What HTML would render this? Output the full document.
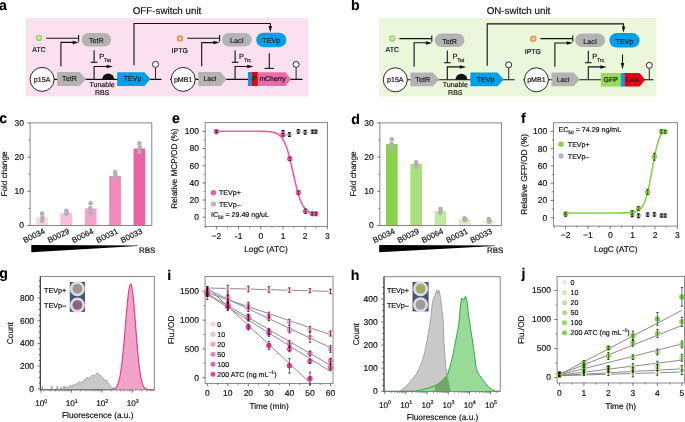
<!DOCTYPE html>
<html><head><meta charset="utf-8"><style>
html,body{margin:0;padding:0;background:#fff;}
body{width:685px;height:422px;overflow:hidden;}
svg{display:block;font-family:"Liberation Sans",sans-serif;text-rendering:geometricPrecision;will-change:transform;}
</style></head><body>
<svg width="685" height="422" viewBox="0 0 685 422">
<defs><radialGradient id="gG"><stop offset="0" stop-color="#e2f2cf"/><stop offset="0.45" stop-color="#bfe29a"/><stop offset="1" stop-color="#8cca55"/></radialGradient><radialGradient id="gO"><stop offset="0" stop-color="#f7e3cc"/><stop offset="0.45" stop-color="#eab27c"/><stop offset="1" stop-color="#dd8a3c"/></radialGradient></defs>
<rect width="685" height="422" fill="#fff"/>
<rect x="26.00" y="18.00" width="282.60" height="78.50" fill="#fbe1ef"/>
<text x="167.00" y="13.90" font-size="9.8" text-anchor="middle" fill="#111" stroke="#111" stroke-width="0.18">OFF-switch unit</text>
<text x="-1.00" y="9.80" font-size="14.2" text-anchor="start" font-weight="bold" fill="#000" stroke="#000" stroke-width="0.12">a</text>
<circle cx="39.00" cy="38.00" r="3.20" fill="url(#gG)"/>
<text x="39.10" y="51.60" font-size="7" text-anchor="middle" fill="#111" stroke="#111" stroke-width="0.18">ATC</text>
<line x1="46.20" y1="38.20" x2="78.60" y2="38.20" stroke="#111" stroke-width="1.1"/>
<line x1="78.60" y1="35.00" x2="78.60" y2="41.40" stroke="#111" stroke-width="1.1"/>
<path d="M60.90,66.30 L60.90,42.40 L75.50,42.40" fill="none" stroke="#111" stroke-width="1.1"/>
<path d="M79.00,42.50 L72.60,40.75 L72.60,44.25 Z" fill="#111" stroke="none" stroke-width="0.8"/>
<rect x="81.60" y="33.10" width="29.60" height="13.50" rx="6.75" fill="#b3b3b3"/>
<text x="96.40" y="43.15" font-size="7.2" text-anchor="middle" fill="#222" stroke="#222" stroke-width="0.18">TetR</text>
<line x1="94.10" y1="50.20" x2="94.10" y2="62.30" stroke="#111" stroke-width="1.1"/>
<line x1="90.80" y1="62.30" x2="97.40" y2="62.30" stroke="#111" stroke-width="1.1"/>
<text x="99.30" y="58.80" font-size="7.4" text-anchor="start" fill="#111" stroke="#111" stroke-width="0.18">P</text>
<text x="104.10" y="61.60" font-size="5.2" text-anchor="start" fill="#111" stroke="#111" stroke-width="0.18">Tet</text>
<line x1="54.10" y1="79.40" x2="161.50" y2="79.40" stroke="#111" stroke-width="1.1"/>
<circle cx="42.10" cy="79.40" r="12.00" fill="#fff" stroke="#111" stroke-width="0.9"/>
<text x="42.10" y="81.90" font-size="7.1" text-anchor="middle" fill="#111" stroke="#111" stroke-width="0.18">p15A</text>
<path d="M57.20,72.10 L79.60,72.10 L86.20,79.00 L79.60,85.90 L57.20,85.90 Z" fill="#b3b3b3" stroke="none" stroke-width="0.8"/>
<text x="69.50" y="81.35" font-size="7.2" text-anchor="middle" fill="#222" stroke="#222" stroke-width="0.18">TetR</text>
<path d="M94.10,79.40 L94.10,66.50 L108.50,66.50" fill="none" stroke="#111" stroke-width="1.1"/>
<path d="M113.00,66.50 L106.60,64.75 L106.60,68.25 Z" fill="#111" stroke="none" stroke-width="0.8"/>
<path d="M102.20,79.40 A6,6 0 0 1 114.20,79.40 Z" fill="#111" stroke="none" stroke-width="0.8"/>
<text x="102.10" y="87.00" font-size="7" text-anchor="middle" fill="#111" stroke="#111" stroke-width="0.18">Tunable</text>
<text x="102.10" y="95.00" font-size="7" text-anchor="middle" fill="#111" stroke="#111" stroke-width="0.18">RBS</text>
<path d="M117.20,72.20 L144.40,72.20 L150.50,79.05 L144.40,85.90 L117.20,85.90 Z" fill="#00a0e9" stroke="none" stroke-width="0.8"/>
<text x="132.40" y="81.40" font-size="7.2" text-anchor="middle" fill="#222" stroke="#222" stroke-width="0.18">TEVp</text>
<line x1="155.50" y1="79.40" x2="155.50" y2="67.40" stroke="#111" stroke-width="0.9"/>
<circle cx="155.50" cy="64.40" r="3.00" fill="#fff" stroke="#111" stroke-width="0.9"/>
<path d="M134.00,65.30 L134.00,23.50 L270.30,23.50 L270.30,28.00" fill="none" stroke="#111" stroke-width="1.1"/>
<path d="M270.30,32.40 L268.55,26.00 L272.05,26.00 Z" fill="#111" stroke="none" stroke-width="0.8"/>
<circle cx="180.00" cy="38.40" r="3.20" fill="url(#gO)"/>
<text x="179.70" y="53.20" font-size="7" text-anchor="middle" fill="#111" stroke="#111" stroke-width="0.18">IPTG</text>
<line x1="187.20" y1="38.20" x2="219.60" y2="38.20" stroke="#111" stroke-width="1.1"/>
<line x1="219.60" y1="35.00" x2="219.60" y2="41.40" stroke="#111" stroke-width="1.1"/>
<path d="M201.70,66.30 L201.70,42.60 L216.50,42.60" fill="none" stroke="#111" stroke-width="1.1"/>
<path d="M219.80,42.60 L213.40,40.85 L213.40,44.35 Z" fill="#111" stroke="none" stroke-width="0.8"/>
<rect x="222.00" y="33.10" width="29.80" height="13.50" rx="6.75" fill="#b3b3b3"/>
<text x="236.90" y="43.15" font-size="7.2" text-anchor="middle" fill="#222" stroke="#222" stroke-width="0.18">LacI</text>
<rect x="256.20" y="32.70" width="30.20" height="14.50" rx="7.25" fill="#00a0e9"/>
<text x="271.30" y="43.25" font-size="7.2" text-anchor="middle" fill="#222" stroke="#222" stroke-width="0.18">TEVp</text>
<line x1="235.10" y1="50.40" x2="235.10" y2="62.30" stroke="#111" stroke-width="1.1"/>
<line x1="231.80" y1="62.30" x2="238.40" y2="62.30" stroke="#111" stroke-width="1.1"/>
<text x="239.10" y="58.80" font-size="7.4" text-anchor="start" fill="#111" stroke="#111" stroke-width="0.18">P</text>
<text x="243.90" y="61.60" font-size="5.2" text-anchor="start" fill="#111" stroke="#111" stroke-width="0.18">Trc</text>
<line x1="170.00" y1="79.40" x2="302.50" y2="79.40" stroke="#111" stroke-width="1.1"/>
<circle cx="183.20" cy="79.40" r="12.00" fill="#fff" stroke="#111" stroke-width="0.9"/>
<text x="183.20" y="81.90" font-size="7.1" text-anchor="middle" fill="#111" stroke="#111" stroke-width="0.18">pMB1</text>
<path d="M198.30,72.10 L220.60,72.10 L226.60,79.00 L220.60,85.90 L198.30,85.90 Z" fill="#b3b3b3" stroke="none" stroke-width="0.8"/>
<text x="210.00" y="81.35" font-size="6.9" text-anchor="middle" fill="#222" stroke="#222" stroke-width="0.18">LacI</text>
<path d="M235.10,79.40 L235.10,66.50 L249.00,66.50" fill="none" stroke="#111" stroke-width="1.1"/>
<path d="M253.50,66.50 L247.10,64.75 L247.10,68.25 Z" fill="#111" stroke="none" stroke-width="0.8"/>
<line x1="269.30" y1="53.30" x2="269.30" y2="68.40" stroke="#111" stroke-width="1.1"/>
<line x1="264.60" y1="68.40" x2="274.00" y2="68.40" stroke="#111" stroke-width="1.1"/>
<rect x="247.90" y="72.00" width="3.70" height="14.00" fill="#00a0e9"/>
<rect x="251.50" y="72.00" width="6.40" height="14.00" fill="#e60012"/>
<text x="254.70" y="81.10" font-size="7.2" text-anchor="middle" fill="#222" stroke="#222" stroke-width="0.18">F</text>
<path d="M257.80,72.20 L285.40,72.20 L290.90,79.15 L285.40,86.10 L257.80,86.10 Z" fill="#ec6aa8" stroke="none" stroke-width="0.8"/>
<text x="272.60" y="81.10" font-size="6.9" text-anchor="middle" fill="#111" stroke="#111" stroke-width="0.18">mCherry</text>
<line x1="296.10" y1="79.40" x2="296.10" y2="67.40" stroke="#111" stroke-width="0.9"/>
<circle cx="296.10" cy="64.40" r="3.00" fill="#fff" stroke="#111" stroke-width="0.9"/>
<rect x="379.20" y="18.00" width="277.40" height="78.50" fill="#ebf7db"/>
<text x="518.50" y="13.90" font-size="9.8" text-anchor="middle" fill="#111" stroke="#111" stroke-width="0.18">ON-switch unit</text>
<text x="350.90" y="9.80" font-size="14.2" text-anchor="start" font-weight="bold" fill="#000" stroke="#000" stroke-width="0.12">b</text>
<circle cx="392.20" cy="38.40" r="3.20" fill="url(#gG)"/>
<text x="392.30" y="52.00" font-size="7" text-anchor="middle" fill="#111" stroke="#111" stroke-width="0.18">ATC</text>
<line x1="399.40" y1="38.60" x2="431.80" y2="38.60" stroke="#111" stroke-width="1.1"/>
<line x1="431.80" y1="35.40" x2="431.80" y2="41.80" stroke="#111" stroke-width="1.1"/>
<path d="M414.10,66.70 L414.10,42.80 L428.70,42.80" fill="none" stroke="#111" stroke-width="1.1"/>
<path d="M432.20,42.90 L425.80,41.15 L425.80,44.65 Z" fill="#111" stroke="none" stroke-width="0.8"/>
<rect x="434.80" y="33.50" width="29.60" height="13.50" rx="6.75" fill="#b3b3b3"/>
<text x="449.60" y="43.55" font-size="7.2" text-anchor="middle" fill="#222" stroke="#222" stroke-width="0.18">TetR</text>
<line x1="447.30" y1="50.60" x2="447.30" y2="62.70" stroke="#111" stroke-width="1.1"/>
<line x1="444.00" y1="62.70" x2="450.60" y2="62.70" stroke="#111" stroke-width="1.1"/>
<text x="452.50" y="59.20" font-size="7.4" text-anchor="start" fill="#111" stroke="#111" stroke-width="0.18">P</text>
<text x="457.30" y="62.00" font-size="5.2" text-anchor="start" fill="#111" stroke="#111" stroke-width="0.18">Tet</text>
<line x1="407.30" y1="79.80" x2="514.70" y2="79.80" stroke="#111" stroke-width="1.1"/>
<circle cx="395.30" cy="79.80" r="12.00" fill="#fff" stroke="#111" stroke-width="0.9"/>
<text x="395.30" y="82.30" font-size="7.1" text-anchor="middle" fill="#111" stroke="#111" stroke-width="0.18">p15A</text>
<path d="M410.40,72.50 L432.80,72.50 L439.40,79.40 L432.80,86.30 L410.40,86.30 Z" fill="#b3b3b3" stroke="none" stroke-width="0.8"/>
<text x="422.70" y="81.75" font-size="7.2" text-anchor="middle" fill="#222" stroke="#222" stroke-width="0.18">TetR</text>
<path d="M447.30,79.80 L447.30,66.90 L461.70,66.90" fill="none" stroke="#111" stroke-width="1.1"/>
<path d="M466.20,66.90 L459.80,65.15 L459.80,68.65 Z" fill="#111" stroke="none" stroke-width="0.8"/>
<path d="M455.40,79.80 A6,6 0 0 1 467.40,79.80 Z" fill="#111" stroke="none" stroke-width="0.8"/>
<text x="455.30" y="87.40" font-size="7" text-anchor="middle" fill="#111" stroke="#111" stroke-width="0.18">Tunable</text>
<text x="455.30" y="95.40" font-size="7" text-anchor="middle" fill="#111" stroke="#111" stroke-width="0.18">RBS</text>
<path d="M470.40,72.60 L497.60,72.60 L503.70,79.45 L497.60,86.30 L470.40,86.30 Z" fill="#00a0e9" stroke="none" stroke-width="0.8"/>
<text x="485.60" y="81.80" font-size="7.2" text-anchor="middle" fill="#222" stroke="#222" stroke-width="0.18">TEVp</text>
<line x1="508.70" y1="79.80" x2="508.70" y2="67.80" stroke="#111" stroke-width="0.9"/>
<circle cx="508.70" cy="64.80" r="3.00" fill="#fff" stroke="#111" stroke-width="0.9"/>
<path d="M487.20,65.70 L487.20,23.90 L623.50,23.90 L623.50,28.40" fill="none" stroke="#111" stroke-width="1.1"/>
<path d="M623.50,32.80 L621.75,26.40 L625.25,26.40 Z" fill="#111" stroke="none" stroke-width="0.8"/>
<circle cx="533.20" cy="38.80" r="3.20" fill="url(#gO)"/>
<text x="532.90" y="53.60" font-size="7" text-anchor="middle" fill="#111" stroke="#111" stroke-width="0.18">IPTG</text>
<line x1="540.40" y1="38.60" x2="572.80" y2="38.60" stroke="#111" stroke-width="1.1"/>
<line x1="572.80" y1="35.40" x2="572.80" y2="41.80" stroke="#111" stroke-width="1.1"/>
<path d="M554.90,66.70 L554.90,43.00 L569.70,43.00" fill="none" stroke="#111" stroke-width="1.1"/>
<path d="M573.00,43.00 L566.60,41.25 L566.60,44.75 Z" fill="#111" stroke="none" stroke-width="0.8"/>
<rect x="575.20" y="33.50" width="29.80" height="13.50" rx="6.75" fill="#b3b3b3"/>
<text x="590.10" y="43.55" font-size="7.2" text-anchor="middle" fill="#222" stroke="#222" stroke-width="0.18">LacI</text>
<rect x="609.40" y="33.10" width="30.20" height="14.50" rx="7.25" fill="#00a0e9"/>
<text x="624.50" y="43.65" font-size="7.2" text-anchor="middle" fill="#222" stroke="#222" stroke-width="0.18">TEVp</text>
<line x1="588.30" y1="50.80" x2="588.30" y2="62.70" stroke="#111" stroke-width="1.1"/>
<line x1="585.00" y1="62.70" x2="591.60" y2="62.70" stroke="#111" stroke-width="1.1"/>
<text x="592.30" y="59.20" font-size="7.4" text-anchor="start" fill="#111" stroke="#111" stroke-width="0.18">P</text>
<text x="597.10" y="62.00" font-size="5.2" text-anchor="start" fill="#111" stroke="#111" stroke-width="0.18">Trc</text>
<line x1="523.20" y1="79.80" x2="653.50" y2="79.80" stroke="#111" stroke-width="1.1"/>
<circle cx="536.40" cy="79.80" r="12.00" fill="#fff" stroke="#111" stroke-width="0.9"/>
<text x="536.40" y="82.30" font-size="7.1" text-anchor="middle" fill="#111" stroke="#111" stroke-width="0.18">pMB1</text>
<path d="M551.50,72.50 L573.80,72.50 L579.80,79.40 L573.80,86.30 L551.50,86.30 Z" fill="#b3b3b3" stroke="none" stroke-width="0.8"/>
<text x="563.20" y="81.75" font-size="6.9" text-anchor="middle" fill="#222" stroke="#222" stroke-width="0.18">LacI</text>
<path d="M588.30,79.80 L588.30,66.90 L602.20,66.90" fill="none" stroke="#111" stroke-width="1.1"/>
<path d="M606.70,66.90 L600.30,65.15 L600.30,68.65 Z" fill="#111" stroke="none" stroke-width="0.8"/>
<line x1="622.50" y1="54.40" x2="622.50" y2="65.40" stroke="#111" stroke-width="1.1"/>
<path d="M622.50,69.40 L620.75,63.00 L624.25,63.00 Z" fill="#111" stroke="none" stroke-width="0.8"/>
<rect x="600.80" y="73.00" width="20.40" height="13.60" fill="#98da5c"/>
<text x="610.80" y="82.30" font-size="7.0" text-anchor="middle" fill="#111" stroke="#111" stroke-width="0.18">GFP</text>
<rect x="620.90" y="73.00" width="4.00" height="13.60" fill="#00a0e9"/>
<path d="M624.70,73.00 L639.60,73.00 L645.20,79.80 L639.60,86.60 L624.70,86.60 Z" fill="#e60012" stroke="none" stroke-width="0.8"/>
<text x="632.60" y="82.30" font-size="7.0" text-anchor="middle" fill="#222" stroke="#222" stroke-width="0.18">LAA</text>
<line x1="649.30" y1="79.80" x2="649.30" y2="68.30" stroke="#111" stroke-width="0.9"/>
<circle cx="649.30" cy="65.30" r="3.00" fill="#fff" stroke="#111" stroke-width="0.9"/>
<text x="-0.70" y="123.30" font-size="14.2" text-anchor="start" font-weight="bold" fill="#000" stroke="#000" stroke-width="0.12">c</text>
<rect x="36.15" y="217.29" width="11.70" height="8.21" fill="#fbd6e7"/>
<rect x="60.50" y="212.85" width="11.70" height="12.65" fill="#f8bedb"/>
<rect x="84.85" y="208.40" width="11.70" height="17.10" fill="#f4a3cb"/>
<rect x="109.20" y="175.91" width="11.70" height="49.59" fill="#f089bd"/>
<rect x="133.55" y="148.55" width="11.70" height="76.95" fill="#ea62a5"/>
<circle cx="42.00" cy="213.53" r="2.35" fill="#b2b2b2"/>
<circle cx="42.50" cy="217.63" r="2.35" fill="#b2b2b2"/>
<circle cx="42.00" cy="221.05" r="2.35" fill="#b2b2b2"/>
<circle cx="66.35" cy="210.79" r="2.35" fill="#b2b2b2"/>
<circle cx="66.85" cy="213.19" r="2.35" fill="#b2b2b2"/>
<circle cx="66.35" cy="213.87" r="2.35" fill="#b2b2b2"/>
<circle cx="90.70" cy="203.27" r="2.35" fill="#b2b2b2"/>
<circle cx="90.20" cy="208.40" r="2.35" fill="#b2b2b2"/>
<circle cx="90.70" cy="213.19" r="2.35" fill="#b2b2b2"/>
<circle cx="115.05" cy="172.15" r="2.35" fill="#b2b2b2"/>
<circle cx="115.55" cy="174.88" r="2.35" fill="#b2b2b2"/>
<circle cx="115.05" cy="177.62" r="2.35" fill="#b2b2b2"/>
<circle cx="139.40" cy="143.42" r="2.35" fill="#b2b2b2"/>
<circle cx="139.90" cy="147.52" r="2.35" fill="#b2b2b2"/>
<circle cx="139.40" cy="151.97" r="2.35" fill="#b2b2b2"/>
<rect x="30.10" y="122.90" width="121.70" height="102.60" fill="none" stroke="#7a7a7a" stroke-width="0.9"/>
<line x1="27.30" y1="225.50" x2="30.10" y2="225.50" stroke="#555" stroke-width="0.8"/>
<text x="23.90" y="228.40" font-size="8.5" text-anchor="end" fill="#111" stroke="#111" stroke-width="0.18">0</text>
<line x1="27.30" y1="191.30" x2="30.10" y2="191.30" stroke="#555" stroke-width="0.8"/>
<text x="23.90" y="194.20" font-size="8.5" text-anchor="end" fill="#111" stroke="#111" stroke-width="0.18">10</text>
<line x1="27.30" y1="157.10" x2="30.10" y2="157.10" stroke="#555" stroke-width="0.8"/>
<text x="23.90" y="160.00" font-size="8.5" text-anchor="end" fill="#111" stroke="#111" stroke-width="0.18">20</text>
<line x1="27.30" y1="122.90" x2="30.10" y2="122.90" stroke="#555" stroke-width="0.8"/>
<text x="23.90" y="125.80" font-size="8.5" text-anchor="end" fill="#111" stroke="#111" stroke-width="0.18">30</text>
<line x1="28.50" y1="208.40" x2="30.10" y2="208.40" stroke="#555" stroke-width="0.7"/>
<line x1="28.50" y1="174.20" x2="30.10" y2="174.20" stroke="#555" stroke-width="0.7"/>
<line x1="28.50" y1="140.00" x2="30.10" y2="140.00" stroke="#555" stroke-width="0.7"/>
<text x="6.60" y="174.00" font-size="8.2" text-anchor="middle" fill="#111" stroke="#111" stroke-width="0.18" transform="rotate(-90 6.60 174.00)">Fold change</text>
<text x="45.60" y="233.00" font-size="8.0" text-anchor="end" fill="#111" stroke="#111" stroke-width="0.18" transform="rotate(-26 45.60 233.00)">B0034</text>
<text x="69.95" y="233.00" font-size="8.0" text-anchor="end" fill="#111" stroke="#111" stroke-width="0.18" transform="rotate(-26 69.95 233.00)">B0029</text>
<text x="94.30" y="233.00" font-size="8.0" text-anchor="end" fill="#111" stroke="#111" stroke-width="0.18" transform="rotate(-26 94.30 233.00)">B0064</text>
<text x="118.65" y="233.00" font-size="8.0" text-anchor="end" fill="#111" stroke="#111" stroke-width="0.18" transform="rotate(-26 118.65 233.00)">B0031</text>
<text x="143.00" y="233.00" font-size="8.0" text-anchor="end" fill="#111" stroke="#111" stroke-width="0.18" transform="rotate(-26 143.00 233.00)">B0033</text>
<path d="M31.30,245.1 L137.50,245.5 L137.50,246.0 L31.30,252.3 Z" fill="#000" stroke="none" stroke-width="0.8"/>
<text x="139.00" y="252.60" font-size="8.0" text-anchor="start" fill="#111" stroke="#111" stroke-width="0.18">RBS</text>
<text x="351.30" y="123.50" font-size="14.2" text-anchor="start" font-weight="bold" fill="#000" stroke="#000" stroke-width="0.12">d</text>
<rect x="385.95" y="144.10" width="11.70" height="81.40" fill="#8ad24c"/>
<rect x="410.30" y="163.94" width="11.70" height="61.56" fill="#a9df7c"/>
<rect x="434.65" y="211.14" width="11.70" height="14.36" fill="#c3e9a1"/>
<rect x="459.00" y="219.00" width="11.70" height="6.50" fill="#d6f0c0"/>
<rect x="483.35" y="220.71" width="11.70" height="4.79" fill="#e6f6da"/>
<circle cx="391.80" cy="139.32" r="2.35" fill="#b2b2b2"/>
<circle cx="391.50" cy="144.10" r="2.35" fill="#b2b2b2"/>
<circle cx="391.80" cy="148.55" r="2.35" fill="#b2b2b2"/>
<circle cx="416.15" cy="162.23" r="2.35" fill="#b2b2b2"/>
<circle cx="416.55" cy="165.31" r="2.35" fill="#b2b2b2"/>
<circle cx="416.15" cy="166.68" r="2.35" fill="#b2b2b2"/>
<circle cx="440.50" cy="208.74" r="2.35" fill="#b2b2b2"/>
<circle cx="440.80" cy="210.79" r="2.35" fill="#b2b2b2"/>
<circle cx="440.20" cy="212.85" r="2.35" fill="#b2b2b2"/>
<circle cx="464.35" cy="218.32" r="2.35" fill="#b2b2b2"/>
<circle cx="465.35" cy="219.34" r="2.35" fill="#b2b2b2"/>
<circle cx="464.85" cy="220.03" r="2.35" fill="#b2b2b2"/>
<circle cx="488.70" cy="219.00" r="2.35" fill="#b2b2b2"/>
<circle cx="489.70" cy="220.71" r="2.35" fill="#b2b2b2"/>
<circle cx="489.20" cy="221.74" r="2.35" fill="#b2b2b2"/>
<rect x="379.90" y="122.90" width="121.70" height="102.60" fill="none" stroke="#7a7a7a" stroke-width="0.9"/>
<line x1="377.10" y1="225.50" x2="379.90" y2="225.50" stroke="#555" stroke-width="0.8"/>
<text x="373.70" y="228.40" font-size="8.5" text-anchor="end" fill="#111" stroke="#111" stroke-width="0.18">0</text>
<line x1="377.10" y1="191.30" x2="379.90" y2="191.30" stroke="#555" stroke-width="0.8"/>
<text x="373.70" y="194.20" font-size="8.5" text-anchor="end" fill="#111" stroke="#111" stroke-width="0.18">10</text>
<line x1="377.10" y1="157.10" x2="379.90" y2="157.10" stroke="#555" stroke-width="0.8"/>
<text x="373.70" y="160.00" font-size="8.5" text-anchor="end" fill="#111" stroke="#111" stroke-width="0.18">20</text>
<line x1="377.10" y1="122.90" x2="379.90" y2="122.90" stroke="#555" stroke-width="0.8"/>
<text x="373.70" y="125.80" font-size="8.5" text-anchor="end" fill="#111" stroke="#111" stroke-width="0.18">30</text>
<line x1="378.30" y1="208.40" x2="379.90" y2="208.40" stroke="#555" stroke-width="0.7"/>
<line x1="378.30" y1="174.20" x2="379.90" y2="174.20" stroke="#555" stroke-width="0.7"/>
<line x1="378.30" y1="140.00" x2="379.90" y2="140.00" stroke="#555" stroke-width="0.7"/>
<text x="356.40" y="174.00" font-size="8.2" text-anchor="middle" fill="#111" stroke="#111" stroke-width="0.18" transform="rotate(-90 356.40 174.00)">Fold change</text>
<text x="395.40" y="233.00" font-size="8.0" text-anchor="end" fill="#111" stroke="#111" stroke-width="0.18" transform="rotate(-26 395.40 233.00)">B0034</text>
<text x="419.75" y="233.00" font-size="8.0" text-anchor="end" fill="#111" stroke="#111" stroke-width="0.18" transform="rotate(-26 419.75 233.00)">B0029</text>
<text x="444.10" y="233.00" font-size="8.0" text-anchor="end" fill="#111" stroke="#111" stroke-width="0.18" transform="rotate(-26 444.10 233.00)">B0064</text>
<text x="468.45" y="233.00" font-size="8.0" text-anchor="end" fill="#111" stroke="#111" stroke-width="0.18" transform="rotate(-26 468.45 233.00)">B0031</text>
<text x="492.80" y="233.00" font-size="8.0" text-anchor="end" fill="#111" stroke="#111" stroke-width="0.18" transform="rotate(-26 492.80 233.00)">B0033</text>
<path d="M379.20,245.1 L494.70,245.5 L494.70,246.0 L379.20,252.3 Z" fill="#000" stroke="none" stroke-width="0.8"/>
<text x="486.90" y="252.60" font-size="8.0" text-anchor="start" fill="#111" stroke="#111" stroke-width="0.18">RBS</text>
<text x="172.10" y="123.00" font-size="14.2" text-anchor="start" font-weight="bold" fill="#000" stroke="#000" stroke-width="0.12">e</text>
<rect x="205.20" y="122.60" width="122.30" height="103.80" fill="none" stroke="#7a7a7a" stroke-width="0.9"/>
<line x1="202.40" y1="217.20" x2="205.20" y2="217.20" stroke="#555" stroke-width="0.8"/>
<text x="199.00" y="220.10" font-size="8.5" text-anchor="end" fill="#111" stroke="#111" stroke-width="0.18">0</text>
<line x1="202.40" y1="200.04" x2="205.20" y2="200.04" stroke="#555" stroke-width="0.8"/>
<text x="199.00" y="202.94" font-size="8.5" text-anchor="end" fill="#111" stroke="#111" stroke-width="0.18">20</text>
<line x1="202.40" y1="182.88" x2="205.20" y2="182.88" stroke="#555" stroke-width="0.8"/>
<text x="199.00" y="185.78" font-size="8.5" text-anchor="end" fill="#111" stroke="#111" stroke-width="0.18">40</text>
<line x1="202.40" y1="165.72" x2="205.20" y2="165.72" stroke="#555" stroke-width="0.8"/>
<text x="199.00" y="168.62" font-size="8.5" text-anchor="end" fill="#111" stroke="#111" stroke-width="0.18">60</text>
<line x1="202.40" y1="148.56" x2="205.20" y2="148.56" stroke="#555" stroke-width="0.8"/>
<text x="199.00" y="151.46" font-size="8.5" text-anchor="end" fill="#111" stroke="#111" stroke-width="0.18">80</text>
<line x1="202.40" y1="131.40" x2="205.20" y2="131.40" stroke="#555" stroke-width="0.8"/>
<text x="199.00" y="134.30" font-size="8.5" text-anchor="end" fill="#111" stroke="#111" stroke-width="0.18">100</text>
<line x1="203.60" y1="208.62" x2="205.20" y2="208.62" stroke="#555" stroke-width="0.7"/>
<line x1="203.60" y1="191.46" x2="205.20" y2="191.46" stroke="#555" stroke-width="0.7"/>
<line x1="203.60" y1="174.30" x2="205.20" y2="174.30" stroke="#555" stroke-width="0.7"/>
<line x1="203.60" y1="157.14" x2="205.20" y2="157.14" stroke="#555" stroke-width="0.7"/>
<line x1="203.60" y1="139.98" x2="205.20" y2="139.98" stroke="#555" stroke-width="0.7"/>
<line x1="216.40" y1="226.40" x2="216.40" y2="229.20" stroke="#555" stroke-width="0.8"/>
<text x="216.40" y="238.60" font-size="8.5" text-anchor="middle" fill="#111" stroke="#111" stroke-width="0.18">−2</text>
<line x1="238.60" y1="226.40" x2="238.60" y2="229.20" stroke="#555" stroke-width="0.8"/>
<text x="238.60" y="238.60" font-size="8.5" text-anchor="middle" fill="#111" stroke="#111" stroke-width="0.18">-1</text>
<line x1="260.80" y1="226.40" x2="260.80" y2="229.20" stroke="#555" stroke-width="0.8"/>
<text x="260.80" y="238.60" font-size="8.5" text-anchor="middle" fill="#111" stroke="#111" stroke-width="0.18">0</text>
<line x1="283.00" y1="226.40" x2="283.00" y2="229.20" stroke="#555" stroke-width="0.8"/>
<text x="283.00" y="238.60" font-size="8.5" text-anchor="middle" fill="#111" stroke="#111" stroke-width="0.18">1</text>
<line x1="305.20" y1="226.40" x2="305.20" y2="229.20" stroke="#555" stroke-width="0.8"/>
<text x="305.20" y="238.60" font-size="8.5" text-anchor="middle" fill="#111" stroke="#111" stroke-width="0.18">2</text>
<line x1="327.40" y1="226.40" x2="327.40" y2="229.20" stroke="#555" stroke-width="0.8"/>
<text x="327.40" y="238.60" font-size="8.5" text-anchor="middle" fill="#111" stroke="#111" stroke-width="0.18">3</text>
<line x1="205.30" y1="226.40" x2="205.30" y2="228.00" stroke="#555" stroke-width="0.7"/>
<line x1="227.50" y1="226.40" x2="227.50" y2="228.00" stroke="#555" stroke-width="0.7"/>
<line x1="249.70" y1="226.40" x2="249.70" y2="228.00" stroke="#555" stroke-width="0.7"/>
<line x1="271.90" y1="226.40" x2="271.90" y2="228.00" stroke="#555" stroke-width="0.7"/>
<line x1="294.10" y1="226.40" x2="294.10" y2="228.00" stroke="#555" stroke-width="0.7"/>
<line x1="316.30" y1="226.40" x2="316.30" y2="228.00" stroke="#555" stroke-width="0.7"/>
<text x="266.00" y="252.00" font-size="8.3" text-anchor="middle" fill="#111" stroke="#111" stroke-width="0.18">LogC (ATC)</text>
<text x="176.90" y="168.60" font-size="8.25" text-anchor="middle" fill="#111" stroke="#111" stroke-width="0.18" transform="rotate(-90 176.90 168.60)">Relative MCP/OD (%)</text>
<circle cx="216.40" cy="131.83" r="2.40" fill="#a8a8a8"/>
<circle cx="283.00" cy="132.34" r="2.40" fill="#a8a8a8"/>
<circle cx="289.44" cy="134.57" r="2.40" fill="#a8a8a8"/>
<circle cx="298.32" cy="131.40" r="2.40" fill="#a8a8a8"/>
<circle cx="305.20" cy="132.26" r="2.40" fill="#a8a8a8"/>
<circle cx="312.53" cy="131.74" r="2.40" fill="#a8a8a8"/>
<circle cx="315.86" cy="131.74" r="2.40" fill="#a8a8a8"/>
<line x1="216.40" y1="129.94" x2="216.40" y2="133.72" stroke="#111" stroke-width="0.7"/>
<line x1="215.00" y1="129.94" x2="217.80" y2="129.94" stroke="#111" stroke-width="1.1"/>
<line x1="215.00" y1="133.72" x2="217.80" y2="133.72" stroke="#111" stroke-width="1.1"/>
<line x1="283.00" y1="130.46" x2="283.00" y2="134.23" stroke="#111" stroke-width="0.7"/>
<line x1="281.60" y1="130.46" x2="284.40" y2="130.46" stroke="#111" stroke-width="1.1"/>
<line x1="281.60" y1="134.23" x2="284.40" y2="134.23" stroke="#111" stroke-width="1.1"/>
<line x1="289.44" y1="132.69" x2="289.44" y2="136.46" stroke="#111" stroke-width="0.7"/>
<line x1="288.04" y1="132.69" x2="290.84" y2="132.69" stroke="#111" stroke-width="1.1"/>
<line x1="288.04" y1="136.46" x2="290.84" y2="136.46" stroke="#111" stroke-width="1.1"/>
<line x1="298.32" y1="129.51" x2="298.32" y2="133.29" stroke="#111" stroke-width="0.7"/>
<line x1="296.92" y1="129.51" x2="299.72" y2="129.51" stroke="#111" stroke-width="1.1"/>
<line x1="296.92" y1="133.29" x2="299.72" y2="133.29" stroke="#111" stroke-width="1.1"/>
<line x1="305.20" y1="130.37" x2="305.20" y2="134.15" stroke="#111" stroke-width="0.7"/>
<line x1="303.80" y1="130.37" x2="306.60" y2="130.37" stroke="#111" stroke-width="1.1"/>
<line x1="303.80" y1="134.15" x2="306.60" y2="134.15" stroke="#111" stroke-width="1.1"/>
<line x1="312.53" y1="130.20" x2="312.53" y2="133.29" stroke="#111" stroke-width="0.7"/>
<line x1="311.13" y1="130.20" x2="313.93" y2="130.20" stroke="#111" stroke-width="1.1"/>
<line x1="311.13" y1="133.29" x2="313.93" y2="133.29" stroke="#111" stroke-width="1.1"/>
<line x1="315.86" y1="130.20" x2="315.86" y2="133.29" stroke="#111" stroke-width="0.7"/>
<line x1="314.46" y1="130.20" x2="317.26" y2="130.20" stroke="#111" stroke-width="1.1"/>
<line x1="314.46" y1="133.29" x2="317.26" y2="133.29" stroke="#111" stroke-width="1.1"/>
<path d="M216.40,131.23 L216.84,131.23 L217.29,131.23 L217.73,131.23 L218.18,131.23 L218.62,131.23 L219.06,131.23 L219.51,131.23 L219.95,131.23 L220.40,131.23 L220.84,131.23 L221.28,131.23 L221.73,131.23 L222.17,131.23 L222.62,131.23 L223.06,131.23 L223.50,131.23 L223.95,131.23 L224.39,131.23 L224.84,131.23 L225.28,131.23 L225.72,131.23 L226.17,131.23 L226.61,131.23 L227.06,131.23 L227.50,131.23 L227.94,131.23 L228.39,131.23 L228.83,131.23 L229.28,131.23 L229.72,131.23 L230.16,131.23 L230.61,131.23 L231.05,131.23 L231.50,131.23 L231.94,131.23 L232.38,131.23 L232.83,131.23 L233.27,131.23 L233.72,131.23 L234.16,131.23 L234.60,131.23 L235.05,131.23 L235.49,131.23 L235.94,131.23 L236.38,131.23 L236.82,131.23 L237.27,131.23 L237.71,131.23 L238.16,131.23 L238.60,131.23 L239.04,131.23 L239.49,131.23 L239.93,131.23 L240.38,131.23 L240.82,131.23 L241.26,131.23 L241.71,131.23 L242.15,131.23 L242.60,131.23 L243.04,131.23 L243.48,131.23 L243.93,131.23 L244.37,131.23 L244.82,131.23 L245.26,131.23 L245.70,131.23 L246.15,131.23 L246.59,131.23 L247.04,131.23 L247.48,131.23 L247.92,131.23 L248.37,131.23 L248.81,131.23 L249.26,131.23 L249.70,131.23 L250.14,131.24 L250.59,131.24 L251.03,131.24 L251.48,131.24 L251.92,131.24 L252.36,131.24 L252.81,131.24 L253.25,131.24 L253.70,131.24 L254.14,131.25 L254.58,131.25 L255.03,131.25 L255.47,131.25 L255.92,131.25 L256.36,131.26 L256.80,131.26 L257.25,131.26 L257.69,131.27 L258.14,131.27 L258.58,131.27 L259.02,131.28 L259.47,131.28 L259.91,131.29 L260.36,131.29 L260.80,131.30 L261.24,131.31 L261.69,131.32 L262.13,131.33 L262.58,131.34 L263.02,131.35 L263.46,131.36 L263.91,131.37 L264.35,131.39 L264.80,131.40 L265.24,131.42 L265.68,131.44 L266.13,131.46 L266.57,131.48 L267.02,131.51 L267.46,131.54 L267.90,131.57 L268.35,131.60 L268.79,131.64 L269.24,131.68 L269.68,131.73 L270.12,131.78 L270.57,131.84 L271.01,131.90 L271.46,131.97 L271.90,132.04 L272.34,132.12 L272.79,132.21 L273.23,132.31 L273.68,132.42 L274.12,132.54 L274.56,132.67 L275.01,132.81 L275.45,132.97 L275.90,133.14 L276.34,133.33 L276.78,133.54 L277.23,133.76 L277.67,134.01 L278.12,134.28 L278.56,134.58 L279.00,134.91 L279.45,135.26 L279.89,135.65 L280.34,136.07 L280.78,136.53 L281.22,137.03 L281.67,137.58 L282.11,138.17 L282.56,138.81 L283.00,139.50 L283.44,140.25 L283.89,141.06 L284.33,141.93 L284.78,142.86 L285.22,143.87 L285.66,144.94 L286.11,146.08 L286.55,147.30 L287.00,148.59 L287.44,149.95 L287.88,151.39 L288.33,152.90 L288.77,154.49 L289.22,156.14 L289.66,157.86 L290.10,159.63 L290.55,161.47 L290.99,163.35 L291.44,165.27 L291.88,167.23 L292.32,169.21 L292.77,171.21 L293.21,173.21 L293.66,175.22 L294.10,177.21 L294.54,179.18 L294.99,181.12 L295.43,183.02 L295.88,184.88 L296.32,186.69 L296.76,188.44 L297.21,190.12 L297.65,191.74 L298.10,193.29 L298.54,194.76 L298.98,196.17 L299.43,197.49 L299.87,198.75 L300.32,199.93 L300.76,201.03 L301.20,202.07 L301.65,203.04 L302.09,203.94 L302.54,204.78 L302.98,205.55 L303.42,206.28 L303.87,206.94 L304.31,207.56 L304.76,208.12 L305.20,208.65 L305.64,209.13 L306.09,209.57 L306.53,209.97 L306.98,210.34 L307.42,210.68 L307.86,211.00 L308.31,211.28 L308.75,211.54 L309.20,211.78 L309.64,212.00 L310.08,212.19 L310.53,212.37 L310.97,212.54 L311.42,212.69 L311.86,212.83 L312.30,212.95 L312.75,213.06 L313.19,213.17 L313.64,213.26 L314.08,213.35 L314.52,213.42 L314.97,213.49 L315.41,213.56 L315.86,213.62 L316.30,213.67 L316.74,213.72 L317.19,213.76 L317.63,213.80 L318.08,213.84" fill="none" stroke="#ec5ca6" stroke-width="1.6" stroke-linejoin="round"/>
<circle cx="216.40" cy="131.40" r="2.75" fill="#ec5ca6"/>
<circle cx="283.00" cy="134.83" r="2.75" fill="#ec5ca6"/>
<circle cx="289.79" cy="158.86" r="2.75" fill="#ec5ca6"/>
<circle cx="298.32" cy="192.58" r="2.75" fill="#ec5ca6"/>
<circle cx="305.51" cy="211.19" r="2.75" fill="#ec5ca6"/>
<circle cx="312.30" cy="213.77" r="2.75" fill="#ec5ca6"/>
<circle cx="315.86" cy="213.77" r="2.75" fill="#ec5ca6"/>
<line x1="216.40" y1="130.37" x2="216.40" y2="132.43" stroke="#222" stroke-width="0.55"/>
<line x1="215.20" y1="130.37" x2="217.60" y2="130.37" stroke="#222" stroke-width="0.9"/>
<line x1="215.20" y1="132.43" x2="217.60" y2="132.43" stroke="#222" stroke-width="0.9"/>
<line x1="283.00" y1="133.54" x2="283.00" y2="136.12" stroke="#222" stroke-width="0.55"/>
<line x1="281.80" y1="133.54" x2="284.20" y2="133.54" stroke="#222" stroke-width="0.9"/>
<line x1="281.80" y1="136.12" x2="284.20" y2="136.12" stroke="#222" stroke-width="0.9"/>
<line x1="289.79" y1="157.14" x2="289.79" y2="160.57" stroke="#222" stroke-width="0.55"/>
<line x1="288.59" y1="157.14" x2="290.99" y2="157.14" stroke="#222" stroke-width="0.9"/>
<line x1="288.59" y1="160.57" x2="290.99" y2="160.57" stroke="#222" stroke-width="0.9"/>
<line x1="298.32" y1="190.86" x2="298.32" y2="194.29" stroke="#222" stroke-width="0.55"/>
<line x1="297.12" y1="190.86" x2="299.52" y2="190.86" stroke="#222" stroke-width="0.9"/>
<line x1="297.12" y1="194.29" x2="299.52" y2="194.29" stroke="#222" stroke-width="0.9"/>
<line x1="305.51" y1="209.05" x2="305.51" y2="213.34" stroke="#222" stroke-width="0.55"/>
<line x1="304.31" y1="209.05" x2="306.71" y2="209.05" stroke="#222" stroke-width="0.9"/>
<line x1="304.31" y1="213.34" x2="306.71" y2="213.34" stroke="#222" stroke-width="0.9"/>
<line x1="312.30" y1="212.48" x2="312.30" y2="215.05" stroke="#222" stroke-width="0.55"/>
<line x1="311.10" y1="212.48" x2="313.50" y2="212.48" stroke="#222" stroke-width="0.9"/>
<line x1="311.10" y1="215.05" x2="313.50" y2="215.05" stroke="#222" stroke-width="0.9"/>
<line x1="315.86" y1="212.48" x2="315.86" y2="215.05" stroke="#222" stroke-width="0.55"/>
<line x1="314.66" y1="212.48" x2="317.06" y2="212.48" stroke="#222" stroke-width="0.9"/>
<line x1="314.66" y1="215.05" x2="317.06" y2="215.05" stroke="#222" stroke-width="0.9"/>
<circle cx="213.40" cy="192.70" r="2.70" fill="#ec5ca6"/>
<text x="219.00" y="195.30" font-size="7.1" text-anchor="start" fill="#111" stroke="#111" stroke-width="0.18">TEVp+</text>
<circle cx="213.40" cy="204.10" r="2.70" fill="#b8b8b8"/>
<text x="219.00" y="206.70" font-size="7.1" text-anchor="start" fill="#111" stroke="#111" stroke-width="0.18">TEVp–</text>
<text x="211.00" y="217.30" font-size="7.1" text-anchor="start" fill="#111" stroke="#111" stroke-width="0.18">IC<tspan font-size="4.8" dy="1.3">50</tspan><tspan dy="-1.3"> = 29.49 ng/uL</tspan></text>
<text x="521.00" y="123.00" font-size="14.2" text-anchor="start" font-weight="bold" fill="#000" stroke="#000" stroke-width="0.12">f</text>
<rect x="553.40" y="122.70" width="124.00" height="103.40" fill="none" stroke="#7a7a7a" stroke-width="0.9"/>
<line x1="550.60" y1="217.70" x2="553.40" y2="217.70" stroke="#555" stroke-width="0.8"/>
<text x="547.20" y="220.60" font-size="8.5" text-anchor="end" fill="#111" stroke="#111" stroke-width="0.18">0</text>
<line x1="550.60" y1="200.44" x2="553.40" y2="200.44" stroke="#555" stroke-width="0.8"/>
<text x="547.20" y="203.34" font-size="8.5" text-anchor="end" fill="#111" stroke="#111" stroke-width="0.18">20</text>
<line x1="550.60" y1="183.18" x2="553.40" y2="183.18" stroke="#555" stroke-width="0.8"/>
<text x="547.20" y="186.08" font-size="8.5" text-anchor="end" fill="#111" stroke="#111" stroke-width="0.18">40</text>
<line x1="550.60" y1="165.92" x2="553.40" y2="165.92" stroke="#555" stroke-width="0.8"/>
<text x="547.20" y="168.82" font-size="8.5" text-anchor="end" fill="#111" stroke="#111" stroke-width="0.18">60</text>
<line x1="550.60" y1="148.66" x2="553.40" y2="148.66" stroke="#555" stroke-width="0.8"/>
<text x="547.20" y="151.56" font-size="8.5" text-anchor="end" fill="#111" stroke="#111" stroke-width="0.18">80</text>
<line x1="550.60" y1="131.40" x2="553.40" y2="131.40" stroke="#555" stroke-width="0.8"/>
<text x="547.20" y="134.30" font-size="8.5" text-anchor="end" fill="#111" stroke="#111" stroke-width="0.18">100</text>
<line x1="551.80" y1="209.07" x2="553.40" y2="209.07" stroke="#555" stroke-width="0.7"/>
<line x1="551.80" y1="191.81" x2="553.40" y2="191.81" stroke="#555" stroke-width="0.7"/>
<line x1="551.80" y1="174.55" x2="553.40" y2="174.55" stroke="#555" stroke-width="0.7"/>
<line x1="551.80" y1="157.29" x2="553.40" y2="157.29" stroke="#555" stroke-width="0.7"/>
<line x1="551.80" y1="140.03" x2="553.40" y2="140.03" stroke="#555" stroke-width="0.7"/>
<line x1="565.60" y1="226.10" x2="565.60" y2="228.90" stroke="#555" stroke-width="0.8"/>
<text x="565.60" y="238.30" font-size="8.5" text-anchor="middle" fill="#111" stroke="#111" stroke-width="0.18">−2</text>
<line x1="587.95" y1="226.10" x2="587.95" y2="228.90" stroke="#555" stroke-width="0.8"/>
<text x="587.95" y="238.30" font-size="8.5" text-anchor="middle" fill="#111" stroke="#111" stroke-width="0.18">−1</text>
<line x1="610.30" y1="226.10" x2="610.30" y2="228.90" stroke="#555" stroke-width="0.8"/>
<text x="610.30" y="238.30" font-size="8.5" text-anchor="middle" fill="#111" stroke="#111" stroke-width="0.18">0</text>
<line x1="632.65" y1="226.10" x2="632.65" y2="228.90" stroke="#555" stroke-width="0.8"/>
<text x="632.65" y="238.30" font-size="8.5" text-anchor="middle" fill="#111" stroke="#111" stroke-width="0.18">1</text>
<line x1="655.00" y1="226.10" x2="655.00" y2="228.90" stroke="#555" stroke-width="0.8"/>
<text x="655.00" y="238.30" font-size="8.5" text-anchor="middle" fill="#111" stroke="#111" stroke-width="0.18">2</text>
<line x1="677.35" y1="226.10" x2="677.35" y2="228.90" stroke="#555" stroke-width="0.8"/>
<text x="677.35" y="238.30" font-size="8.5" text-anchor="middle" fill="#111" stroke="#111" stroke-width="0.18">3</text>
<line x1="554.42" y1="226.10" x2="554.42" y2="227.70" stroke="#555" stroke-width="0.7"/>
<line x1="576.77" y1="226.10" x2="576.77" y2="227.70" stroke="#555" stroke-width="0.7"/>
<line x1="599.12" y1="226.10" x2="599.12" y2="227.70" stroke="#555" stroke-width="0.7"/>
<line x1="621.47" y1="226.10" x2="621.47" y2="227.70" stroke="#555" stroke-width="0.7"/>
<line x1="643.82" y1="226.10" x2="643.82" y2="227.70" stroke="#555" stroke-width="0.7"/>
<line x1="666.17" y1="226.10" x2="666.17" y2="227.70" stroke="#555" stroke-width="0.7"/>
<text x="615.80" y="251.70" font-size="8.3" text-anchor="middle" fill="#111" stroke="#111" stroke-width="0.18">LogC (ATC)</text>
<text x="527.00" y="174.30" font-size="8.45" text-anchor="middle" fill="#111" stroke="#111" stroke-width="0.18" transform="rotate(-90 527.00 174.30)">Relative GFP/OD (%)</text>
<circle cx="565.60" cy="214.42" r="2.40" fill="#a8a8a8"/>
<circle cx="632.20" cy="214.68" r="2.40" fill="#a8a8a8"/>
<circle cx="638.46" cy="215.80" r="2.40" fill="#a8a8a8"/>
<circle cx="647.62" cy="214.68" r="2.40" fill="#a8a8a8"/>
<circle cx="654.33" cy="214.42" r="2.40" fill="#a8a8a8"/>
<circle cx="661.48" cy="215.54" r="2.40" fill="#a8a8a8"/>
<circle cx="665.06" cy="215.54" r="2.40" fill="#a8a8a8"/>
<line x1="565.60" y1="212.52" x2="565.60" y2="216.32" stroke="#111" stroke-width="0.7"/>
<line x1="564.20" y1="212.52" x2="567.00" y2="212.52" stroke="#111" stroke-width="1.1"/>
<line x1="564.20" y1="216.32" x2="567.00" y2="216.32" stroke="#111" stroke-width="1.1"/>
<line x1="632.20" y1="212.52" x2="632.20" y2="216.84" stroke="#111" stroke-width="0.7"/>
<line x1="630.80" y1="212.52" x2="633.60" y2="212.52" stroke="#111" stroke-width="1.1"/>
<line x1="630.80" y1="216.84" x2="633.60" y2="216.84" stroke="#111" stroke-width="1.1"/>
<line x1="638.46" y1="213.90" x2="638.46" y2="217.70" stroke="#111" stroke-width="0.7"/>
<line x1="637.06" y1="213.90" x2="639.86" y2="213.90" stroke="#111" stroke-width="1.1"/>
<line x1="637.06" y1="217.70" x2="639.86" y2="217.70" stroke="#111" stroke-width="1.1"/>
<line x1="647.62" y1="212.95" x2="647.62" y2="216.41" stroke="#111" stroke-width="0.7"/>
<line x1="646.22" y1="212.95" x2="649.02" y2="212.95" stroke="#111" stroke-width="1.1"/>
<line x1="646.22" y1="216.41" x2="649.02" y2="216.41" stroke="#111" stroke-width="1.1"/>
<line x1="654.33" y1="212.69" x2="654.33" y2="216.15" stroke="#111" stroke-width="0.7"/>
<line x1="652.93" y1="212.69" x2="655.73" y2="212.69" stroke="#111" stroke-width="1.1"/>
<line x1="652.93" y1="216.15" x2="655.73" y2="216.15" stroke="#111" stroke-width="1.1"/>
<line x1="661.48" y1="213.99" x2="661.48" y2="217.10" stroke="#111" stroke-width="0.7"/>
<line x1="660.08" y1="213.99" x2="662.88" y2="213.99" stroke="#111" stroke-width="1.1"/>
<line x1="660.08" y1="217.10" x2="662.88" y2="217.10" stroke="#111" stroke-width="1.1"/>
<line x1="665.06" y1="213.99" x2="665.06" y2="217.10" stroke="#111" stroke-width="0.7"/>
<line x1="663.66" y1="213.99" x2="666.46" y2="213.99" stroke="#111" stroke-width="1.1"/>
<line x1="663.66" y1="217.10" x2="666.46" y2="217.10" stroke="#111" stroke-width="1.1"/>
<path d="M565.60,212.95 L566.05,212.95 L566.49,212.95 L566.94,212.95 L567.39,212.95 L567.83,212.95 L568.28,212.95 L568.73,212.95 L569.18,212.95 L569.62,212.95 L570.07,212.95 L570.52,212.95 L570.96,212.95 L571.41,212.95 L571.86,212.95 L572.30,212.95 L572.75,212.95 L573.20,212.95 L573.65,212.95 L574.09,212.95 L574.54,212.95 L574.99,212.95 L575.43,212.95 L575.88,212.95 L576.33,212.95 L576.77,212.95 L577.22,212.95 L577.67,212.95 L578.12,212.95 L578.56,212.95 L579.01,212.95 L579.46,212.95 L579.90,212.95 L580.35,212.95 L580.80,212.95 L581.25,212.95 L581.69,212.95 L582.14,212.95 L582.59,212.95 L583.03,212.95 L583.48,212.95 L583.93,212.95 L584.37,212.95 L584.82,212.95 L585.27,212.95 L585.71,212.95 L586.16,212.95 L586.61,212.95 L587.06,212.95 L587.50,212.95 L587.95,212.95 L588.40,212.95 L588.84,212.95 L589.29,212.95 L589.74,212.95 L590.18,212.95 L590.63,212.95 L591.08,212.95 L591.53,212.95 L591.97,212.95 L592.42,212.95 L592.87,212.95 L593.31,212.95 L593.76,212.95 L594.21,212.95 L594.65,212.95 L595.10,212.95 L595.55,212.95 L596.00,212.95 L596.44,212.95 L596.89,212.95 L597.34,212.95 L597.78,212.95 L598.23,212.95 L598.68,212.95 L599.12,212.95 L599.57,212.95 L600.02,212.95 L600.47,212.95 L600.91,212.95 L601.36,212.95 L601.81,212.95 L602.25,212.95 L602.70,212.95 L603.15,212.95 L603.59,212.95 L604.04,212.95 L604.49,212.95 L604.94,212.95 L605.38,212.95 L605.83,212.95 L606.28,212.95 L606.72,212.95 L607.17,212.95 L607.62,212.95 L608.06,212.95 L608.51,212.95 L608.96,212.95 L609.41,212.95 L609.85,212.95 L610.30,212.95 L610.75,212.95 L611.19,212.95 L611.64,212.95 L612.09,212.95 L612.53,212.95 L612.98,212.95 L613.43,212.95 L613.88,212.95 L614.32,212.95 L614.77,212.95 L615.22,212.95 L615.66,212.95 L616.11,212.95 L616.56,212.94 L617.00,212.94 L617.45,212.94 L617.90,212.94 L618.35,212.94 L618.79,212.94 L619.24,212.94 L619.69,212.93 L620.13,212.93 L620.58,212.93 L621.03,212.92 L621.47,212.92 L621.92,212.92 L622.37,212.91 L622.82,212.91 L623.26,212.90 L623.71,212.90 L624.16,212.89 L624.60,212.88 L625.05,212.87 L625.50,212.86 L625.94,212.85 L626.39,212.84 L626.84,212.82 L627.29,212.81 L627.73,212.79 L628.18,212.77 L628.63,212.75 L629.07,212.72 L629.52,212.70 L629.97,212.67 L630.41,212.63 L630.86,212.59 L631.31,212.55 L631.76,212.50 L632.20,212.44 L632.65,212.38 L633.10,212.31 L633.54,212.23 L633.99,212.15 L634.44,212.05 L634.88,211.94 L635.33,211.82 L635.78,211.68 L636.23,211.53 L636.67,211.36 L637.12,211.17 L637.57,210.95 L638.01,210.72 L638.46,210.45 L638.91,210.16 L639.36,209.83 L639.80,209.46 L640.25,209.05 L640.70,208.60 L641.14,208.10 L641.59,207.55 L642.04,206.93 L642.48,206.26 L642.93,205.51 L643.38,204.69 L643.82,203.79 L644.27,202.80 L644.72,201.72 L645.17,200.55 L645.61,199.27 L646.06,197.90 L646.51,196.41 L646.95,194.82 L647.40,193.11 L647.85,191.30 L648.29,189.38 L648.74,187.36 L649.19,185.24 L649.64,183.03 L650.08,180.74 L650.53,178.38 L650.98,175.97 L651.42,173.52 L651.87,171.05 L652.32,168.56 L652.76,166.09 L653.21,163.64 L653.66,161.23 L654.11,158.87 L654.55,156.58 L655.00,154.37 L655.45,152.25 L655.89,150.23 L656.34,148.31 L656.79,146.49 L657.23,144.79 L657.68,143.20 L658.13,141.71 L658.58,140.33 L659.02,139.06 L659.47,137.89 L659.92,136.81 L660.36,135.82 L660.81,134.92 L661.26,134.10 L661.70,133.35 L662.15,132.67 L662.60,132.06 L663.05,131.51 L663.49,131.00 L663.94,130.55 L664.39,130.15 L664.83,129.78 L665.28,129.45 L665.73,129.16" fill="none" stroke="#86d441" stroke-width="1.6" stroke-linejoin="round"/>
<circle cx="565.60" cy="213.82" r="2.75" fill="#86d441"/>
<circle cx="632.20" cy="212.52" r="2.75" fill="#86d441"/>
<circle cx="638.46" cy="208.47" r="2.75" fill="#86d441"/>
<circle cx="647.62" cy="191.90" r="2.75" fill="#86d441"/>
<circle cx="654.33" cy="156.77" r="2.75" fill="#86d441"/>
<circle cx="661.48" cy="131.49" r="2.75" fill="#86d441"/>
<circle cx="665.06" cy="131.83" r="2.75" fill="#86d441"/>
<line x1="565.60" y1="212.78" x2="565.60" y2="214.85" stroke="#222" stroke-width="0.55"/>
<line x1="564.40" y1="212.78" x2="566.80" y2="212.78" stroke="#222" stroke-width="0.9"/>
<line x1="564.40" y1="214.85" x2="566.80" y2="214.85" stroke="#222" stroke-width="0.9"/>
<line x1="632.20" y1="210.80" x2="632.20" y2="214.25" stroke="#222" stroke-width="0.55"/>
<line x1="631.00" y1="210.80" x2="633.40" y2="210.80" stroke="#222" stroke-width="0.9"/>
<line x1="631.00" y1="214.25" x2="633.40" y2="214.25" stroke="#222" stroke-width="0.9"/>
<line x1="638.46" y1="206.74" x2="638.46" y2="210.19" stroke="#222" stroke-width="0.55"/>
<line x1="637.26" y1="206.74" x2="639.66" y2="206.74" stroke="#222" stroke-width="0.9"/>
<line x1="637.26" y1="210.19" x2="639.66" y2="210.19" stroke="#222" stroke-width="0.9"/>
<line x1="647.62" y1="189.31" x2="647.62" y2="194.49" stroke="#222" stroke-width="0.55"/>
<line x1="646.42" y1="189.31" x2="648.82" y2="189.31" stroke="#222" stroke-width="0.9"/>
<line x1="646.42" y1="194.49" x2="648.82" y2="194.49" stroke="#222" stroke-width="0.9"/>
<line x1="654.33" y1="153.32" x2="654.33" y2="160.22" stroke="#222" stroke-width="0.55"/>
<line x1="653.13" y1="153.32" x2="655.53" y2="153.32" stroke="#222" stroke-width="0.9"/>
<line x1="653.13" y1="160.22" x2="655.53" y2="160.22" stroke="#222" stroke-width="0.9"/>
<line x1="661.48" y1="129.76" x2="661.48" y2="133.21" stroke="#222" stroke-width="0.55"/>
<line x1="660.28" y1="129.76" x2="662.68" y2="129.76" stroke="#222" stroke-width="0.9"/>
<line x1="660.28" y1="133.21" x2="662.68" y2="133.21" stroke="#222" stroke-width="0.9"/>
<line x1="665.06" y1="130.54" x2="665.06" y2="133.13" stroke="#222" stroke-width="0.55"/>
<line x1="663.86" y1="130.54" x2="666.26" y2="130.54" stroke="#222" stroke-width="0.9"/>
<line x1="663.86" y1="133.13" x2="666.26" y2="133.13" stroke="#222" stroke-width="0.9"/>
<text x="558.50" y="132.40" font-size="7.1" text-anchor="start" fill="#111" stroke="#111" stroke-width="0.18">EC<tspan font-size="4.8" dy="1.3">50</tspan><tspan dy="-1.3"> = 74.29 ng/mL</tspan></text>
<circle cx="561.00" cy="144.30" r="2.70" fill="#86d441"/>
<text x="567.80" y="146.90" font-size="7.1" text-anchor="start" fill="#111" stroke="#111" stroke-width="0.18">TEVp+</text>
<circle cx="561.00" cy="156.00" r="2.70" fill="#b8b8b8"/>
<text x="567.80" y="158.60" font-size="7.1" text-anchor="start" fill="#111" stroke="#111" stroke-width="0.18">TEVp–</text>
<text x="-0.80" y="278.20" font-size="14.2" text-anchor="start" font-weight="bold" fill="#000" stroke="#000" stroke-width="0.12">g</text>
<path d="M40.60,389.70 L41.50,389.70 L42.30,385.90 L43.20,389.70 L50.80,389.70 L51.70,386.00 L52.60,389.70 L56.40,389.70 L57.30,386.00 L58.20,389.70 L60.20,389.70 L61.00,386.90 L61.80,389.40 L63.20,389.40 L64.00,386.10 L64.80,388.20 L65.80,386.80 L66.90,387.10 L68.20,387.50 L69.30,386.10 L70.40,385.60 L71.60,385.90 L73.00,385.10 L75.00,384.80 L76.50,383.50 L77.80,383.90 L79.70,381.30 L81.00,382.50 L82.00,383.00 L83.20,380.90 L84.40,379.50 L85.50,380.70 L86.70,377.20 L88.00,377.90 L89.00,379.00 L90.30,376.90 L92.00,375.40 L93.20,375.10 L94.30,375.80 L95.50,374.70 L97.00,373.10 L98.50,373.70 L99.50,374.70 L100.70,376.00 L102.30,377.50 L104.20,380.10 L105.40,379.90 L106.60,380.10 L108.30,382.90 L110.00,385.40 L112.00,387.40 L114.70,389.70 L40.60,389.70" fill="#c9c9c9" stroke="#8c8c8c" stroke-width="0.7"/>
<path d="M40.60,389.70 L112.00,389.49 L112.50,389.41 L113.00,389.30 L113.50,389.15 L114.00,388.96 L114.50,388.71 L115.00,388.39 L115.50,387.97 L116.00,387.44 L116.50,386.78 L117.00,385.96 L117.50,384.95 L118.00,383.72 L118.50,382.23 L119.00,380.46 L119.50,378.38 L120.00,375.94 L120.50,373.13 L121.00,369.92 L121.50,366.29 L122.00,362.25 L122.50,357.79 L123.00,352.94 L123.50,347.73 L124.00,342.21 L124.50,336.43 L125.00,330.48 L125.50,324.44 L126.00,318.43 L126.50,312.56 L127.00,306.94 L127.50,301.70 L128.00,296.95 L128.50,292.82 L129.00,289.39 L129.50,286.77 L130.00,285.02 L130.50,284.18 L131.00,284.30 L131.50,285.50 L132.00,287.75 L132.50,290.99 L133.00,295.12 L133.50,300.01 L134.00,305.53 L134.50,311.52 L135.00,317.85 L135.50,324.34 L136.00,330.87 L136.50,337.29 L137.00,343.49 L137.50,349.38 L138.00,354.89 L138.50,359.95 L139.00,364.55 L139.50,368.65 L140.00,372.26 L140.50,375.41 L141.00,378.11 L141.50,380.39 L142.00,382.31 L142.50,383.89 L143.00,385.18 L143.50,386.22 L144.00,387.05 L144.50,387.70 L145.00,388.21 L145.50,388.60 L146.00,388.89 L146.50,389.12 L147.00,389.28 L147.50,389.40 L148.00,389.49 L148.50,389.56 L149.00,389.60 L149.50,389.63 L150.00,389.65 L154.00,389.70" fill="#f1a2c9" stroke="#e0418e" stroke-width="1.2"/>
<rect x="40.30" y="276.40" width="114.00" height="113.50" fill="none" stroke="#7a7a7a" stroke-width="0.9"/>
<line x1="40.30" y1="276.40" x2="40.30" y2="389.90" stroke="#2a2a2a" stroke-width="0.95"/>
<line x1="37.50" y1="388.80" x2="40.30" y2="388.80" stroke="#555" stroke-width="0.8"/>
<text x="34.10" y="391.70" font-size="8.5" text-anchor="end" fill="#111" stroke="#111" stroke-width="0.18">0</text>
<line x1="37.50" y1="366.10" x2="40.30" y2="366.10" stroke="#555" stroke-width="0.8"/>
<text x="34.10" y="369.00" font-size="8.5" text-anchor="end" fill="#111" stroke="#111" stroke-width="0.18">200</text>
<line x1="37.50" y1="343.40" x2="40.30" y2="343.40" stroke="#555" stroke-width="0.8"/>
<text x="34.10" y="346.30" font-size="8.5" text-anchor="end" fill="#111" stroke="#111" stroke-width="0.18">400</text>
<line x1="37.50" y1="320.70" x2="40.30" y2="320.70" stroke="#555" stroke-width="0.8"/>
<text x="34.10" y="323.60" font-size="8.5" text-anchor="end" fill="#111" stroke="#111" stroke-width="0.18">600</text>
<line x1="37.50" y1="298.00" x2="40.30" y2="298.00" stroke="#555" stroke-width="0.8"/>
<text x="34.10" y="300.90" font-size="8.5" text-anchor="end" fill="#111" stroke="#111" stroke-width="0.18">800</text>
<line x1="38.70" y1="383.12" x2="40.30" y2="383.12" stroke="#222" stroke-width="0.7"/>
<line x1="38.70" y1="377.45" x2="40.30" y2="377.45" stroke="#222" stroke-width="0.7"/>
<line x1="38.70" y1="371.78" x2="40.30" y2="371.78" stroke="#222" stroke-width="0.7"/>
<line x1="38.70" y1="360.43" x2="40.30" y2="360.43" stroke="#222" stroke-width="0.7"/>
<line x1="38.70" y1="354.75" x2="40.30" y2="354.75" stroke="#222" stroke-width="0.7"/>
<line x1="38.70" y1="349.07" x2="40.30" y2="349.07" stroke="#222" stroke-width="0.7"/>
<line x1="38.70" y1="337.73" x2="40.30" y2="337.73" stroke="#222" stroke-width="0.7"/>
<line x1="38.70" y1="332.05" x2="40.30" y2="332.05" stroke="#222" stroke-width="0.7"/>
<line x1="38.70" y1="326.38" x2="40.30" y2="326.38" stroke="#222" stroke-width="0.7"/>
<line x1="38.70" y1="315.02" x2="40.30" y2="315.02" stroke="#222" stroke-width="0.7"/>
<line x1="38.70" y1="309.35" x2="40.30" y2="309.35" stroke="#222" stroke-width="0.7"/>
<line x1="38.70" y1="303.68" x2="40.30" y2="303.68" stroke="#222" stroke-width="0.7"/>
<line x1="38.70" y1="292.32" x2="40.30" y2="292.32" stroke="#222" stroke-width="0.7"/>
<line x1="38.70" y1="286.65" x2="40.30" y2="286.65" stroke="#222" stroke-width="0.7"/>
<line x1="38.70" y1="280.98" x2="40.30" y2="280.98" stroke="#222" stroke-width="0.7"/>
<line x1="41.00" y1="389.90" x2="41.00" y2="392.70" stroke="#555" stroke-width="0.8"/>
<line x1="50.18" y1="389.90" x2="50.18" y2="391.40" stroke="#555" stroke-width="0.6"/>
<line x1="55.55" y1="389.90" x2="55.55" y2="391.40" stroke="#555" stroke-width="0.6"/>
<line x1="59.36" y1="389.90" x2="59.36" y2="391.40" stroke="#555" stroke-width="0.6"/>
<line x1="62.32" y1="389.90" x2="62.32" y2="391.40" stroke="#555" stroke-width="0.6"/>
<line x1="64.73" y1="389.90" x2="64.73" y2="391.40" stroke="#555" stroke-width="0.6"/>
<line x1="66.78" y1="389.90" x2="66.78" y2="391.40" stroke="#555" stroke-width="0.6"/>
<line x1="68.54" y1="389.90" x2="68.54" y2="391.40" stroke="#555" stroke-width="0.6"/>
<line x1="70.10" y1="389.90" x2="70.10" y2="391.40" stroke="#555" stroke-width="0.6"/>
<line x1="71.50" y1="389.90" x2="71.50" y2="392.70" stroke="#555" stroke-width="0.8"/>
<line x1="80.68" y1="389.90" x2="80.68" y2="391.40" stroke="#555" stroke-width="0.6"/>
<line x1="86.05" y1="389.90" x2="86.05" y2="391.40" stroke="#555" stroke-width="0.6"/>
<line x1="89.86" y1="389.90" x2="89.86" y2="391.40" stroke="#555" stroke-width="0.6"/>
<line x1="92.82" y1="389.90" x2="92.82" y2="391.40" stroke="#555" stroke-width="0.6"/>
<line x1="95.23" y1="389.90" x2="95.23" y2="391.40" stroke="#555" stroke-width="0.6"/>
<line x1="97.28" y1="389.90" x2="97.28" y2="391.40" stroke="#555" stroke-width="0.6"/>
<line x1="99.04" y1="389.90" x2="99.04" y2="391.40" stroke="#555" stroke-width="0.6"/>
<line x1="100.60" y1="389.90" x2="100.60" y2="391.40" stroke="#555" stroke-width="0.6"/>
<line x1="102.00" y1="389.90" x2="102.00" y2="392.70" stroke="#555" stroke-width="0.8"/>
<line x1="111.18" y1="389.90" x2="111.18" y2="391.40" stroke="#555" stroke-width="0.6"/>
<line x1="116.55" y1="389.90" x2="116.55" y2="391.40" stroke="#555" stroke-width="0.6"/>
<line x1="120.36" y1="389.90" x2="120.36" y2="391.40" stroke="#555" stroke-width="0.6"/>
<line x1="123.32" y1="389.90" x2="123.32" y2="391.40" stroke="#555" stroke-width="0.6"/>
<line x1="125.73" y1="389.90" x2="125.73" y2="391.40" stroke="#555" stroke-width="0.6"/>
<line x1="127.78" y1="389.90" x2="127.78" y2="391.40" stroke="#555" stroke-width="0.6"/>
<line x1="129.54" y1="389.90" x2="129.54" y2="391.40" stroke="#555" stroke-width="0.6"/>
<line x1="131.10" y1="389.90" x2="131.10" y2="391.40" stroke="#555" stroke-width="0.6"/>
<line x1="132.50" y1="389.90" x2="132.50" y2="392.70" stroke="#555" stroke-width="0.8"/>
<line x1="141.68" y1="389.90" x2="141.68" y2="391.40" stroke="#555" stroke-width="0.6"/>
<line x1="147.05" y1="389.90" x2="147.05" y2="391.40" stroke="#555" stroke-width="0.6"/>
<line x1="150.86" y1="389.90" x2="150.86" y2="391.40" stroke="#555" stroke-width="0.6"/>
<line x1="153.82" y1="389.90" x2="153.82" y2="391.40" stroke="#555" stroke-width="0.6"/>
<text x="39.80" y="405.90" font-size="8.2" text-anchor="middle" fill="#111" stroke="#111" stroke-width="0.18">10</text>
<text x="44.30" y="402.50" font-size="5.3" text-anchor="start" fill="#111" stroke="#111" stroke-width="0.18">0</text>
<text x="70.30" y="405.90" font-size="8.2" text-anchor="middle" fill="#111" stroke="#111" stroke-width="0.18">10</text>
<text x="74.80" y="402.50" font-size="5.3" text-anchor="start" fill="#111" stroke="#111" stroke-width="0.18">1</text>
<text x="100.80" y="405.90" font-size="8.2" text-anchor="middle" fill="#111" stroke="#111" stroke-width="0.18">10</text>
<text x="105.30" y="402.50" font-size="5.3" text-anchor="start" fill="#111" stroke="#111" stroke-width="0.18">2</text>
<text x="131.30" y="405.90" font-size="8.2" text-anchor="middle" fill="#111" stroke="#111" stroke-width="0.18">10</text>
<text x="135.80" y="402.50" font-size="5.3" text-anchor="start" fill="#111" stroke="#111" stroke-width="0.18">3</text>
<text x="97.80" y="417.90" font-size="8.3" text-anchor="middle" fill="#111" stroke="#111" stroke-width="0.18">Fluorescence (a.u.)</text>
<text x="13.00" y="333.15" font-size="8.3" text-anchor="middle" fill="#111" stroke="#111" stroke-width="0.18" transform="rotate(-90 13.00 333.15)">Count</text>
<rect x="69.80" y="282.00" width="15.20" height="29.90" fill="#4d5470"/>
<circle cx="77.40" cy="288.82" r="7.50" fill="#dcdce8"/>
<circle cx="77.40" cy="288.82" r="4.90" fill="#9a978b"/>
<circle cx="77.40" cy="305.08" r="7.50" fill="#dcdce8"/>
<circle cx="77.40" cy="305.08" r="4.90" fill="#93637e"/>
<text x="44.00" y="292.70" font-size="7.2" text-anchor="start" fill="#111" stroke="#111" stroke-width="0.18">TEVp+</text>
<text x="44.00" y="307.80" font-size="7.2" text-anchor="start" fill="#111" stroke="#111" stroke-width="0.18">TEVp–</text>
<text x="350.80" y="279.80" font-size="14.2" text-anchor="start" font-weight="bold" fill="#000" stroke="#000" stroke-width="0.12">h</text>
<path d="M399.60,391.20 L402.00,389.50 L406.10,386.20 L410.00,382.00 L413.50,377.80 L416.50,373.50 L419.00,368.60 L421.00,364.00 L422.70,359.40 L424.20,354.00 L425.50,348.30 L427.00,341.00 L428.30,333.50 L429.50,326.00 L430.40,320.00 L431.00,316.80 L432.00,305.00 L433.50,298.00 L434.20,298.00 L435.50,294.00 L436.60,290.00 L437.80,293.30 L439.00,290.00 L440.50,297.00 L442.00,310.00 L442.60,315.00 L443.20,320.00 L444.00,342.70 L445.80,366.80 L447.20,375.00 L448.60,381.50 L450.50,390.80 L451.00,391.20" fill="#c9c9c9" stroke="#8c8c8c" stroke-width="0.7"/>
<path d="M384.50,391.20 L415.30,391.20 L422.00,389.80 L428.30,388.00 L433.00,386.50 L437.50,384.30 L441.00,381.50 L444.00,378.80 L447.70,374.10 L450.50,364.90 L452.50,357.00 L454.10,348.30 L456.00,339.00 L457.80,329.80 L459.30,320.00 L460.50,305.00 L461.70,298.00 L463.50,300.40 L465.50,296.10 L466.50,299.00 L467.50,305.00 L468.50,315.00 L470.80,329.80 L473.60,348.30 L476.30,368.60 L478.00,373.00 L480.00,376.00 L483.00,380.00 L485.60,383.40 L488.50,386.50 L491.10,389.00 L495.70,391.20 L500.00,391.20" fill="#8fd88f" stroke="#2eab3e" stroke-width="1.0" fill-opacity="0.92"/>
<path d="M435.00,391.20 L435.00,385.52 L435.40,385.33 L435.80,385.13 L436.20,384.94 L436.60,384.74 L437.00,384.54 L437.40,384.35 L437.80,384.06 L438.20,383.74 L438.60,383.42 L439.00,383.10 L439.40,382.78 L439.80,382.46 L440.20,382.14 L440.60,381.82 L441.00,381.50 L441.40,381.14 L441.80,380.78 L442.20,380.42 L442.60,380.06 L443.00,379.70 L443.40,379.34 L443.80,378.98 L444.20,378.55 L444.60,378.04 L445.00,377.53 L445.40,377.02 L445.80,376.51 L446.20,376.01 L446.60,375.50 L447.00,374.99 L447.40,375.93 L447.80,377.79 L448.20,379.64 L448.60,381.50 L449.00,383.46 L449.40,385.42 L449.80,387.37 L450.20,389.33 L450.60,390.88 L451.00,391.20 L451.00,391.20" fill="#6ca86a" stroke="none" stroke-width="0.7"/>
<rect x="384.00" y="276.70" width="116.20" height="114.90" fill="none" stroke="#7a7a7a" stroke-width="0.9"/>
<line x1="384.00" y1="276.70" x2="384.00" y2="391.60" stroke="#2a2a2a" stroke-width="0.95"/>
<line x1="381.20" y1="391.20" x2="384.00" y2="391.20" stroke="#555" stroke-width="0.8"/>
<text x="377.80" y="394.10" font-size="8.5" text-anchor="end" fill="#111" stroke="#111" stroke-width="0.18">0</text>
<line x1="381.20" y1="368.15" x2="384.00" y2="368.15" stroke="#555" stroke-width="0.8"/>
<text x="377.80" y="371.05" font-size="8.5" text-anchor="end" fill="#111" stroke="#111" stroke-width="0.18">100</text>
<line x1="381.20" y1="345.10" x2="384.00" y2="345.10" stroke="#555" stroke-width="0.8"/>
<text x="377.80" y="348.00" font-size="8.5" text-anchor="end" fill="#111" stroke="#111" stroke-width="0.18">200</text>
<line x1="381.20" y1="322.05" x2="384.00" y2="322.05" stroke="#555" stroke-width="0.8"/>
<text x="377.80" y="324.95" font-size="8.5" text-anchor="end" fill="#111" stroke="#111" stroke-width="0.18">300</text>
<line x1="381.20" y1="299.00" x2="384.00" y2="299.00" stroke="#555" stroke-width="0.8"/>
<text x="377.80" y="301.90" font-size="8.5" text-anchor="end" fill="#111" stroke="#111" stroke-width="0.18">400</text>
<line x1="382.40" y1="385.44" x2="384.00" y2="385.44" stroke="#222" stroke-width="0.7"/>
<line x1="382.40" y1="379.68" x2="384.00" y2="379.68" stroke="#222" stroke-width="0.7"/>
<line x1="382.40" y1="373.91" x2="384.00" y2="373.91" stroke="#222" stroke-width="0.7"/>
<line x1="382.40" y1="362.39" x2="384.00" y2="362.39" stroke="#222" stroke-width="0.7"/>
<line x1="382.40" y1="356.62" x2="384.00" y2="356.62" stroke="#222" stroke-width="0.7"/>
<line x1="382.40" y1="350.86" x2="384.00" y2="350.86" stroke="#222" stroke-width="0.7"/>
<line x1="382.40" y1="339.34" x2="384.00" y2="339.34" stroke="#222" stroke-width="0.7"/>
<line x1="382.40" y1="333.57" x2="384.00" y2="333.57" stroke="#222" stroke-width="0.7"/>
<line x1="382.40" y1="327.81" x2="384.00" y2="327.81" stroke="#222" stroke-width="0.7"/>
<line x1="382.40" y1="316.29" x2="384.00" y2="316.29" stroke="#222" stroke-width="0.7"/>
<line x1="382.40" y1="310.52" x2="384.00" y2="310.52" stroke="#222" stroke-width="0.7"/>
<line x1="382.40" y1="304.76" x2="384.00" y2="304.76" stroke="#222" stroke-width="0.7"/>
<line x1="382.40" y1="293.24" x2="384.00" y2="293.24" stroke="#222" stroke-width="0.7"/>
<line x1="382.40" y1="287.47" x2="384.00" y2="287.47" stroke="#222" stroke-width="0.7"/>
<line x1="384.80" y1="391.60" x2="384.80" y2="394.40" stroke="#555" stroke-width="0.8"/>
<line x1="391.17" y1="391.60" x2="391.17" y2="393.10" stroke="#555" stroke-width="0.6"/>
<line x1="394.90" y1="391.60" x2="394.90" y2="393.10" stroke="#555" stroke-width="0.6"/>
<line x1="397.55" y1="391.60" x2="397.55" y2="393.10" stroke="#555" stroke-width="0.6"/>
<line x1="399.60" y1="391.60" x2="399.60" y2="393.10" stroke="#555" stroke-width="0.6"/>
<line x1="401.27" y1="391.60" x2="401.27" y2="393.10" stroke="#555" stroke-width="0.6"/>
<line x1="402.69" y1="391.60" x2="402.69" y2="393.10" stroke="#555" stroke-width="0.6"/>
<line x1="403.92" y1="391.60" x2="403.92" y2="393.10" stroke="#555" stroke-width="0.6"/>
<line x1="405.00" y1="391.60" x2="405.00" y2="393.10" stroke="#555" stroke-width="0.6"/>
<line x1="405.97" y1="391.60" x2="405.97" y2="394.40" stroke="#555" stroke-width="0.8"/>
<line x1="412.34" y1="391.60" x2="412.34" y2="393.10" stroke="#555" stroke-width="0.6"/>
<line x1="416.07" y1="391.60" x2="416.07" y2="393.10" stroke="#555" stroke-width="0.6"/>
<line x1="418.72" y1="391.60" x2="418.72" y2="393.10" stroke="#555" stroke-width="0.6"/>
<line x1="420.77" y1="391.60" x2="420.77" y2="393.10" stroke="#555" stroke-width="0.6"/>
<line x1="422.44" y1="391.60" x2="422.44" y2="393.10" stroke="#555" stroke-width="0.6"/>
<line x1="423.86" y1="391.60" x2="423.86" y2="393.10" stroke="#555" stroke-width="0.6"/>
<line x1="425.09" y1="391.60" x2="425.09" y2="393.10" stroke="#555" stroke-width="0.6"/>
<line x1="426.17" y1="391.60" x2="426.17" y2="393.10" stroke="#555" stroke-width="0.6"/>
<line x1="427.14" y1="391.60" x2="427.14" y2="394.40" stroke="#555" stroke-width="0.8"/>
<line x1="433.51" y1="391.60" x2="433.51" y2="393.10" stroke="#555" stroke-width="0.6"/>
<line x1="437.24" y1="391.60" x2="437.24" y2="393.10" stroke="#555" stroke-width="0.6"/>
<line x1="439.89" y1="391.60" x2="439.89" y2="393.10" stroke="#555" stroke-width="0.6"/>
<line x1="441.94" y1="391.60" x2="441.94" y2="393.10" stroke="#555" stroke-width="0.6"/>
<line x1="443.61" y1="391.60" x2="443.61" y2="393.10" stroke="#555" stroke-width="0.6"/>
<line x1="445.03" y1="391.60" x2="445.03" y2="393.10" stroke="#555" stroke-width="0.6"/>
<line x1="446.26" y1="391.60" x2="446.26" y2="393.10" stroke="#555" stroke-width="0.6"/>
<line x1="447.34" y1="391.60" x2="447.34" y2="393.10" stroke="#555" stroke-width="0.6"/>
<line x1="448.31" y1="391.60" x2="448.31" y2="394.40" stroke="#555" stroke-width="0.8"/>
<line x1="454.68" y1="391.60" x2="454.68" y2="393.10" stroke="#555" stroke-width="0.6"/>
<line x1="458.41" y1="391.60" x2="458.41" y2="393.10" stroke="#555" stroke-width="0.6"/>
<line x1="461.06" y1="391.60" x2="461.06" y2="393.10" stroke="#555" stroke-width="0.6"/>
<line x1="463.11" y1="391.60" x2="463.11" y2="393.10" stroke="#555" stroke-width="0.6"/>
<line x1="464.78" y1="391.60" x2="464.78" y2="393.10" stroke="#555" stroke-width="0.6"/>
<line x1="466.20" y1="391.60" x2="466.20" y2="393.10" stroke="#555" stroke-width="0.6"/>
<line x1="467.43" y1="391.60" x2="467.43" y2="393.10" stroke="#555" stroke-width="0.6"/>
<line x1="468.51" y1="391.60" x2="468.51" y2="393.10" stroke="#555" stroke-width="0.6"/>
<line x1="469.48" y1="391.60" x2="469.48" y2="394.40" stroke="#555" stroke-width="0.8"/>
<line x1="475.85" y1="391.60" x2="475.85" y2="393.10" stroke="#555" stroke-width="0.6"/>
<line x1="479.58" y1="391.60" x2="479.58" y2="393.10" stroke="#555" stroke-width="0.6"/>
<line x1="482.23" y1="391.60" x2="482.23" y2="393.10" stroke="#555" stroke-width="0.6"/>
<line x1="484.28" y1="391.60" x2="484.28" y2="393.10" stroke="#555" stroke-width="0.6"/>
<line x1="485.95" y1="391.60" x2="485.95" y2="393.10" stroke="#555" stroke-width="0.6"/>
<line x1="487.37" y1="391.60" x2="487.37" y2="393.10" stroke="#555" stroke-width="0.6"/>
<line x1="488.60" y1="391.60" x2="488.60" y2="393.10" stroke="#555" stroke-width="0.6"/>
<line x1="489.68" y1="391.60" x2="489.68" y2="393.10" stroke="#555" stroke-width="0.6"/>
<line x1="490.65" y1="391.60" x2="490.65" y2="394.40" stroke="#555" stroke-width="0.8"/>
<line x1="497.02" y1="391.60" x2="497.02" y2="393.10" stroke="#555" stroke-width="0.6"/>
<text x="383.60" y="407.60" font-size="8.2" text-anchor="middle" fill="#111" stroke="#111" stroke-width="0.18">10</text>
<text x="388.10" y="404.20" font-size="5.3" text-anchor="start" fill="#111" stroke="#111" stroke-width="0.18">0</text>
<text x="404.77" y="407.60" font-size="8.2" text-anchor="middle" fill="#111" stroke="#111" stroke-width="0.18">10</text>
<text x="409.27" y="404.20" font-size="5.3" text-anchor="start" fill="#111" stroke="#111" stroke-width="0.18">1</text>
<text x="425.94" y="407.60" font-size="8.2" text-anchor="middle" fill="#111" stroke="#111" stroke-width="0.18">10</text>
<text x="430.44" y="404.20" font-size="5.3" text-anchor="start" fill="#111" stroke="#111" stroke-width="0.18">2</text>
<text x="447.11" y="407.60" font-size="8.2" text-anchor="middle" fill="#111" stroke="#111" stroke-width="0.18">10</text>
<text x="451.61" y="404.20" font-size="5.3" text-anchor="start" fill="#111" stroke="#111" stroke-width="0.18">3</text>
<text x="468.28" y="407.60" font-size="8.2" text-anchor="middle" fill="#111" stroke="#111" stroke-width="0.18">10</text>
<text x="472.78" y="404.20" font-size="5.3" text-anchor="start" fill="#111" stroke="#111" stroke-width="0.18">4</text>
<text x="489.45" y="407.60" font-size="8.2" text-anchor="middle" fill="#111" stroke="#111" stroke-width="0.18">10</text>
<text x="493.95" y="404.20" font-size="5.3" text-anchor="start" fill="#111" stroke="#111" stroke-width="0.18">5</text>
<text x="442.60" y="419.60" font-size="8.3" text-anchor="middle" fill="#111" stroke="#111" stroke-width="0.18">Fluorescence (a.u.)</text>
<text x="359.00" y="334.15" font-size="8.3" text-anchor="middle" fill="#111" stroke="#111" stroke-width="0.18" transform="rotate(-90 359.00 334.15)">Count</text>
<rect x="412.50" y="282.00" width="16.10" height="29.40" fill="#4d5470"/>
<circle cx="420.55" cy="288.70" r="7.50" fill="#dcdce8"/>
<circle cx="420.55" cy="288.70" r="4.90" fill="#9fae5e"/>
<circle cx="420.55" cy="304.70" r="7.50" fill="#dcdce8"/>
<circle cx="420.55" cy="304.70" r="4.90" fill="#9c9c90"/>
<text x="386.90" y="292.70" font-size="7.2" text-anchor="start" fill="#111" stroke="#111" stroke-width="0.18">TEVp+</text>
<text x="386.90" y="307.80" font-size="7.2" text-anchor="start" fill="#111" stroke="#111" stroke-width="0.18">TEVp–</text>
<text x="167.20" y="279.80" font-size="14.2" text-anchor="start" font-weight="bold" fill="#000" stroke="#000" stroke-width="0.12">i</text>
<rect x="205.10" y="276.40" width="127.90" height="107.00" fill="none" stroke="#7a7a7a" stroke-width="0.9"/>
<line x1="202.30" y1="377.70" x2="205.10" y2="377.70" stroke="#555" stroke-width="0.8"/>
<text x="198.90" y="380.60" font-size="8.5" text-anchor="end" fill="#111" stroke="#111" stroke-width="0.18">0</text>
<line x1="202.30" y1="348.90" x2="205.10" y2="348.90" stroke="#555" stroke-width="0.8"/>
<text x="198.90" y="351.80" font-size="8.5" text-anchor="end" fill="#111" stroke="#111" stroke-width="0.18">500</text>
<line x1="202.30" y1="320.10" x2="205.10" y2="320.10" stroke="#555" stroke-width="0.8"/>
<text x="198.90" y="323.00" font-size="8.5" text-anchor="end" fill="#111" stroke="#111" stroke-width="0.18">1000</text>
<line x1="202.30" y1="291.30" x2="205.10" y2="291.30" stroke="#555" stroke-width="0.8"/>
<text x="198.90" y="294.20" font-size="8.5" text-anchor="end" fill="#111" stroke="#111" stroke-width="0.18">1500</text>
<line x1="203.50" y1="363.30" x2="205.10" y2="363.30" stroke="#555" stroke-width="0.7"/>
<line x1="203.50" y1="334.50" x2="205.10" y2="334.50" stroke="#555" stroke-width="0.7"/>
<line x1="203.50" y1="305.70" x2="205.10" y2="305.70" stroke="#555" stroke-width="0.7"/>
<line x1="207.30" y1="383.40" x2="207.30" y2="386.20" stroke="#555" stroke-width="0.8"/>
<text x="207.30" y="395.90" font-size="8.5" text-anchor="middle" fill="#111" stroke="#111" stroke-width="0.18">0</text>
<line x1="227.83" y1="383.40" x2="227.83" y2="386.20" stroke="#555" stroke-width="0.8"/>
<text x="227.83" y="395.90" font-size="8.5" text-anchor="middle" fill="#111" stroke="#111" stroke-width="0.18">10</text>
<line x1="248.37" y1="383.40" x2="248.37" y2="386.20" stroke="#555" stroke-width="0.8"/>
<text x="248.37" y="395.90" font-size="8.5" text-anchor="middle" fill="#111" stroke="#111" stroke-width="0.18">20</text>
<line x1="268.90" y1="383.40" x2="268.90" y2="386.20" stroke="#555" stroke-width="0.8"/>
<text x="268.90" y="395.90" font-size="8.5" text-anchor="middle" fill="#111" stroke="#111" stroke-width="0.18">30</text>
<line x1="289.43" y1="383.40" x2="289.43" y2="386.20" stroke="#555" stroke-width="0.8"/>
<text x="289.43" y="395.90" font-size="8.5" text-anchor="middle" fill="#111" stroke="#111" stroke-width="0.18">40</text>
<line x1="309.97" y1="383.40" x2="309.97" y2="386.20" stroke="#555" stroke-width="0.8"/>
<text x="309.97" y="395.90" font-size="8.5" text-anchor="middle" fill="#111" stroke="#111" stroke-width="0.18">50</text>
<line x1="330.50" y1="383.40" x2="330.50" y2="386.20" stroke="#555" stroke-width="0.8"/>
<text x="330.50" y="395.90" font-size="8.5" text-anchor="middle" fill="#111" stroke="#111" stroke-width="0.18">60</text>
<line x1="217.57" y1="383.40" x2="217.57" y2="385.00" stroke="#555" stroke-width="0.7"/>
<line x1="238.10" y1="383.40" x2="238.10" y2="385.00" stroke="#555" stroke-width="0.7"/>
<line x1="258.63" y1="383.40" x2="258.63" y2="385.00" stroke="#555" stroke-width="0.7"/>
<line x1="279.17" y1="383.40" x2="279.17" y2="385.00" stroke="#555" stroke-width="0.7"/>
<line x1="299.70" y1="383.40" x2="299.70" y2="385.00" stroke="#555" stroke-width="0.7"/>
<line x1="320.23" y1="383.40" x2="320.23" y2="385.00" stroke="#555" stroke-width="0.7"/>
<text x="269.05" y="409.40" font-size="8.3" text-anchor="middle" fill="#111" stroke="#111" stroke-width="0.18">Time (min)</text>
<text x="174.20" y="329.90" font-size="8.3" text-anchor="middle" fill="#111" stroke="#111" stroke-width="0.18" transform="rotate(-90 174.20 329.90)">Flu./OD</text>
<line x1="207.30" y1="287.96" x2="330.50" y2="291.42" stroke="#858585" stroke-width="0.95"/>
<line x1="207.30" y1="292.68" x2="330.50" y2="334.62" stroke="#858585" stroke-width="0.95"/>
<line x1="207.30" y1="289.57" x2="330.50" y2="347.69" stroke="#858585" stroke-width="0.95"/>
<line x1="207.30" y1="293.78" x2="330.50" y2="365.37" stroke="#858585" stroke-width="0.95"/>
<line x1="207.30" y1="294.47" x2="330.50" y2="371.48" stroke="#858585" stroke-width="0.95"/>
<line x1="207.30" y1="287.27" x2="310.79" y2="383.40" stroke="#858585" stroke-width="0.95"/>
<circle cx="207.30" cy="289.00" r="2.75" fill="#fbd0e4"/>
<circle cx="227.83" cy="288.71" r="2.75" fill="#fbd0e4"/>
<circle cx="248.37" cy="289.00" r="2.75" fill="#fbd0e4"/>
<circle cx="268.90" cy="289.57" r="2.75" fill="#fbd0e4"/>
<circle cx="289.43" cy="290.15" r="2.75" fill="#fbd0e4"/>
<circle cx="309.97" cy="290.72" r="2.75" fill="#fbd0e4"/>
<circle cx="330.50" cy="291.42" r="2.75" fill="#fbd0e4"/>
<circle cx="207.30" cy="291.30" r="2.75" fill="#f8b6d6"/>
<circle cx="227.83" cy="296.71" r="2.75" fill="#f8b6d6"/>
<circle cx="248.37" cy="305.18" r="2.75" fill="#f8b6d6"/>
<circle cx="268.90" cy="315.03" r="2.75" fill="#f8b6d6"/>
<circle cx="289.43" cy="322.29" r="2.75" fill="#f8b6d6"/>
<circle cx="309.97" cy="329.20" r="2.75" fill="#f8b6d6"/>
<circle cx="330.50" cy="333.52" r="2.75" fill="#f8b6d6"/>
<circle cx="207.30" cy="290.15" r="2.75" fill="#f49ccb"/>
<circle cx="227.83" cy="298.21" r="2.75" fill="#f49ccb"/>
<circle cx="248.37" cy="308.41" r="2.75" fill="#f49ccb"/>
<circle cx="268.90" cy="317.91" r="2.75" fill="#f49ccb"/>
<circle cx="289.43" cy="330.01" r="2.75" fill="#f49ccb"/>
<circle cx="309.97" cy="337.21" r="2.75" fill="#f49ccb"/>
<circle cx="330.50" cy="348.90" r="2.75" fill="#f49ccb"/>
<circle cx="207.30" cy="292.45" r="2.75" fill="#f07fbe"/>
<circle cx="227.83" cy="304.32" r="2.75" fill="#f07fbe"/>
<circle cx="248.37" cy="316.99" r="2.75" fill="#f07fbe"/>
<circle cx="268.90" cy="331.22" r="2.75" fill="#f07fbe"/>
<circle cx="289.43" cy="343.83" r="2.75" fill="#f07fbe"/>
<circle cx="309.97" cy="353.51" r="2.75" fill="#f07fbe"/>
<circle cx="330.50" cy="360.82" r="2.75" fill="#f07fbe"/>
<circle cx="207.30" cy="293.03" r="2.75" fill="#ec5fb0"/>
<circle cx="227.83" cy="306.51" r="2.75" fill="#ec5fb0"/>
<circle cx="248.37" cy="317.91" r="2.75" fill="#ec5fb0"/>
<circle cx="268.90" cy="333.12" r="2.75" fill="#ec5fb0"/>
<circle cx="289.43" cy="348.90" r="2.75" fill="#ec5fb0"/>
<circle cx="309.97" cy="361.23" r="2.75" fill="#ec5fb0"/>
<circle cx="330.50" cy="367.39" r="2.75" fill="#ec5fb0"/>
<circle cx="207.30" cy="294.18" r="2.75" fill="#e8429f"/>
<circle cx="227.83" cy="306.51" r="2.75" fill="#e8429f"/>
<circle cx="248.37" cy="327.01" r="2.75" fill="#e8429f"/>
<circle cx="268.90" cy="345.44" r="2.75" fill="#e8429f"/>
<circle cx="289.43" cy="365.83" r="2.75" fill="#e8429f"/>
<circle cx="309.97" cy="378.51" r="2.75" fill="#e8429f"/>
<line x1="207.30" y1="286.69" x2="207.30" y2="291.30" stroke="#111" stroke-width="0.6"/>
<line x1="206.15" y1="286.69" x2="208.45" y2="286.69" stroke="#111" stroke-width="0.75"/>
<line x1="206.15" y1="291.30" x2="208.45" y2="291.30" stroke="#111" stroke-width="0.75"/>
<line x1="227.83" y1="285.25" x2="227.83" y2="292.16" stroke="#111" stroke-width="0.6"/>
<line x1="226.68" y1="285.25" x2="228.98" y2="285.25" stroke="#111" stroke-width="0.75"/>
<line x1="226.68" y1="292.16" x2="228.98" y2="292.16" stroke="#111" stroke-width="0.75"/>
<line x1="248.37" y1="286.12" x2="248.37" y2="291.88" stroke="#111" stroke-width="0.6"/>
<line x1="247.22" y1="286.12" x2="249.52" y2="286.12" stroke="#111" stroke-width="0.75"/>
<line x1="247.22" y1="291.88" x2="249.52" y2="291.88" stroke="#111" stroke-width="0.75"/>
<line x1="268.90" y1="286.69" x2="268.90" y2="292.45" stroke="#111" stroke-width="0.6"/>
<line x1="267.75" y1="286.69" x2="270.05" y2="286.69" stroke="#111" stroke-width="0.75"/>
<line x1="267.75" y1="292.45" x2="270.05" y2="292.45" stroke="#111" stroke-width="0.75"/>
<line x1="289.43" y1="287.84" x2="289.43" y2="292.45" stroke="#111" stroke-width="0.6"/>
<line x1="288.28" y1="287.84" x2="290.58" y2="287.84" stroke="#111" stroke-width="0.75"/>
<line x1="288.28" y1="292.45" x2="290.58" y2="292.45" stroke="#111" stroke-width="0.75"/>
<line x1="309.97" y1="288.71" x2="309.97" y2="292.74" stroke="#111" stroke-width="0.6"/>
<line x1="308.82" y1="288.71" x2="311.12" y2="288.71" stroke="#111" stroke-width="0.75"/>
<line x1="308.82" y1="292.74" x2="311.12" y2="292.74" stroke="#111" stroke-width="0.75"/>
<line x1="330.50" y1="289.11" x2="330.50" y2="293.72" stroke="#111" stroke-width="0.6"/>
<line x1="329.35" y1="289.11" x2="331.65" y2="289.11" stroke="#111" stroke-width="0.75"/>
<line x1="329.35" y1="293.72" x2="331.65" y2="293.72" stroke="#111" stroke-width="0.75"/>
<line x1="207.30" y1="287.84" x2="207.30" y2="294.76" stroke="#111" stroke-width="0.6"/>
<line x1="206.15" y1="287.84" x2="208.45" y2="287.84" stroke="#111" stroke-width="0.75"/>
<line x1="206.15" y1="294.76" x2="208.45" y2="294.76" stroke="#111" stroke-width="0.75"/>
<line x1="227.83" y1="293.83" x2="227.83" y2="299.59" stroke="#111" stroke-width="0.6"/>
<line x1="226.68" y1="293.83" x2="228.98" y2="293.83" stroke="#111" stroke-width="0.75"/>
<line x1="226.68" y1="299.59" x2="228.98" y2="299.59" stroke="#111" stroke-width="0.75"/>
<line x1="248.37" y1="302.30" x2="248.37" y2="308.06" stroke="#111" stroke-width="0.6"/>
<line x1="247.22" y1="302.30" x2="249.52" y2="302.30" stroke="#111" stroke-width="0.75"/>
<line x1="247.22" y1="308.06" x2="249.52" y2="308.06" stroke="#111" stroke-width="0.75"/>
<line x1="268.90" y1="312.15" x2="268.90" y2="317.91" stroke="#111" stroke-width="0.6"/>
<line x1="267.75" y1="312.15" x2="270.05" y2="312.15" stroke="#111" stroke-width="0.75"/>
<line x1="267.75" y1="317.91" x2="270.05" y2="317.91" stroke="#111" stroke-width="0.75"/>
<line x1="289.43" y1="319.12" x2="289.43" y2="325.46" stroke="#111" stroke-width="0.6"/>
<line x1="288.28" y1="319.12" x2="290.58" y2="319.12" stroke="#111" stroke-width="0.75"/>
<line x1="288.28" y1="325.46" x2="290.58" y2="325.46" stroke="#111" stroke-width="0.75"/>
<line x1="309.97" y1="326.32" x2="309.97" y2="332.08" stroke="#111" stroke-width="0.6"/>
<line x1="308.82" y1="326.32" x2="311.12" y2="326.32" stroke="#111" stroke-width="0.75"/>
<line x1="308.82" y1="332.08" x2="311.12" y2="332.08" stroke="#111" stroke-width="0.75"/>
<line x1="330.50" y1="330.93" x2="330.50" y2="336.11" stroke="#111" stroke-width="0.6"/>
<line x1="329.35" y1="330.93" x2="331.65" y2="330.93" stroke="#111" stroke-width="0.75"/>
<line x1="329.35" y1="336.11" x2="331.65" y2="336.11" stroke="#111" stroke-width="0.75"/>
<line x1="207.30" y1="286.69" x2="207.30" y2="293.60" stroke="#111" stroke-width="0.6"/>
<line x1="206.15" y1="286.69" x2="208.45" y2="286.69" stroke="#111" stroke-width="0.75"/>
<line x1="206.15" y1="293.60" x2="208.45" y2="293.60" stroke="#111" stroke-width="0.75"/>
<line x1="227.83" y1="295.33" x2="227.83" y2="301.09" stroke="#111" stroke-width="0.6"/>
<line x1="226.68" y1="295.33" x2="228.98" y2="295.33" stroke="#111" stroke-width="0.75"/>
<line x1="226.68" y1="301.09" x2="228.98" y2="301.09" stroke="#111" stroke-width="0.75"/>
<line x1="248.37" y1="305.24" x2="248.37" y2="311.58" stroke="#111" stroke-width="0.6"/>
<line x1="247.22" y1="305.24" x2="249.52" y2="305.24" stroke="#111" stroke-width="0.75"/>
<line x1="247.22" y1="311.58" x2="249.52" y2="311.58" stroke="#111" stroke-width="0.75"/>
<line x1="268.90" y1="315.03" x2="268.90" y2="320.79" stroke="#111" stroke-width="0.6"/>
<line x1="267.75" y1="315.03" x2="270.05" y2="315.03" stroke="#111" stroke-width="0.75"/>
<line x1="267.75" y1="320.79" x2="270.05" y2="320.79" stroke="#111" stroke-width="0.75"/>
<line x1="289.43" y1="327.13" x2="289.43" y2="332.89" stroke="#111" stroke-width="0.6"/>
<line x1="288.28" y1="327.13" x2="290.58" y2="327.13" stroke="#111" stroke-width="0.75"/>
<line x1="288.28" y1="332.89" x2="290.58" y2="332.89" stroke="#111" stroke-width="0.75"/>
<line x1="309.97" y1="332.02" x2="309.97" y2="342.39" stroke="#111" stroke-width="0.6"/>
<line x1="308.82" y1="332.02" x2="311.12" y2="332.02" stroke="#111" stroke-width="0.75"/>
<line x1="308.82" y1="342.39" x2="311.12" y2="342.39" stroke="#111" stroke-width="0.75"/>
<line x1="330.50" y1="345.44" x2="330.50" y2="352.36" stroke="#111" stroke-width="0.6"/>
<line x1="329.35" y1="345.44" x2="331.65" y2="345.44" stroke="#111" stroke-width="0.75"/>
<line x1="329.35" y1="352.36" x2="331.65" y2="352.36" stroke="#111" stroke-width="0.75"/>
<line x1="207.30" y1="289.00" x2="207.30" y2="295.91" stroke="#111" stroke-width="0.6"/>
<line x1="206.15" y1="289.00" x2="208.45" y2="289.00" stroke="#111" stroke-width="0.75"/>
<line x1="206.15" y1="295.91" x2="208.45" y2="295.91" stroke="#111" stroke-width="0.75"/>
<line x1="227.83" y1="301.44" x2="227.83" y2="307.20" stroke="#111" stroke-width="0.6"/>
<line x1="226.68" y1="301.44" x2="228.98" y2="301.44" stroke="#111" stroke-width="0.75"/>
<line x1="226.68" y1="307.20" x2="228.98" y2="307.20" stroke="#111" stroke-width="0.75"/>
<line x1="248.37" y1="314.11" x2="248.37" y2="319.87" stroke="#111" stroke-width="0.6"/>
<line x1="247.22" y1="314.11" x2="249.52" y2="314.11" stroke="#111" stroke-width="0.75"/>
<line x1="247.22" y1="319.87" x2="249.52" y2="319.87" stroke="#111" stroke-width="0.75"/>
<line x1="268.90" y1="328.34" x2="268.90" y2="334.10" stroke="#111" stroke-width="0.6"/>
<line x1="267.75" y1="328.34" x2="270.05" y2="328.34" stroke="#111" stroke-width="0.75"/>
<line x1="267.75" y1="334.10" x2="270.05" y2="334.10" stroke="#111" stroke-width="0.75"/>
<line x1="289.43" y1="340.38" x2="289.43" y2="347.29" stroke="#111" stroke-width="0.6"/>
<line x1="288.28" y1="340.38" x2="290.58" y2="340.38" stroke="#111" stroke-width="0.75"/>
<line x1="288.28" y1="347.29" x2="290.58" y2="347.29" stroke="#111" stroke-width="0.75"/>
<line x1="309.97" y1="350.92" x2="309.97" y2="356.10" stroke="#111" stroke-width="0.6"/>
<line x1="308.82" y1="350.92" x2="311.12" y2="350.92" stroke="#111" stroke-width="0.75"/>
<line x1="308.82" y1="356.10" x2="311.12" y2="356.10" stroke="#111" stroke-width="0.75"/>
<line x1="330.50" y1="358.23" x2="330.50" y2="363.42" stroke="#111" stroke-width="0.6"/>
<line x1="329.35" y1="358.23" x2="331.65" y2="358.23" stroke="#111" stroke-width="0.75"/>
<line x1="329.35" y1="363.42" x2="331.65" y2="363.42" stroke="#111" stroke-width="0.75"/>
<line x1="207.30" y1="289.57" x2="207.30" y2="296.48" stroke="#111" stroke-width="0.6"/>
<line x1="206.15" y1="289.57" x2="208.45" y2="289.57" stroke="#111" stroke-width="0.75"/>
<line x1="206.15" y1="296.48" x2="208.45" y2="296.48" stroke="#111" stroke-width="0.75"/>
<line x1="227.83" y1="303.05" x2="227.83" y2="309.96" stroke="#111" stroke-width="0.6"/>
<line x1="226.68" y1="303.05" x2="228.98" y2="303.05" stroke="#111" stroke-width="0.75"/>
<line x1="226.68" y1="309.96" x2="228.98" y2="309.96" stroke="#111" stroke-width="0.75"/>
<line x1="248.37" y1="314.74" x2="248.37" y2="321.08" stroke="#111" stroke-width="0.6"/>
<line x1="247.22" y1="314.74" x2="249.52" y2="314.74" stroke="#111" stroke-width="0.75"/>
<line x1="247.22" y1="321.08" x2="249.52" y2="321.08" stroke="#111" stroke-width="0.75"/>
<line x1="268.90" y1="329.95" x2="268.90" y2="336.29" stroke="#111" stroke-width="0.6"/>
<line x1="267.75" y1="329.95" x2="270.05" y2="329.95" stroke="#111" stroke-width="0.75"/>
<line x1="267.75" y1="336.29" x2="270.05" y2="336.29" stroke="#111" stroke-width="0.75"/>
<line x1="289.43" y1="346.02" x2="289.43" y2="351.78" stroke="#111" stroke-width="0.6"/>
<line x1="288.28" y1="346.02" x2="290.58" y2="346.02" stroke="#111" stroke-width="0.75"/>
<line x1="288.28" y1="351.78" x2="290.58" y2="351.78" stroke="#111" stroke-width="0.75"/>
<line x1="309.97" y1="358.92" x2="309.97" y2="363.53" stroke="#111" stroke-width="0.6"/>
<line x1="308.82" y1="358.92" x2="311.12" y2="358.92" stroke="#111" stroke-width="0.75"/>
<line x1="308.82" y1="363.53" x2="311.12" y2="363.53" stroke="#111" stroke-width="0.75"/>
<line x1="330.50" y1="364.51" x2="330.50" y2="370.27" stroke="#111" stroke-width="0.6"/>
<line x1="329.35" y1="364.51" x2="331.65" y2="364.51" stroke="#111" stroke-width="0.75"/>
<line x1="329.35" y1="370.27" x2="331.65" y2="370.27" stroke="#111" stroke-width="0.75"/>
<line x1="207.30" y1="289.00" x2="207.30" y2="299.36" stroke="#111" stroke-width="0.6"/>
<line x1="206.15" y1="289.00" x2="208.45" y2="289.00" stroke="#111" stroke-width="0.75"/>
<line x1="206.15" y1="299.36" x2="208.45" y2="299.36" stroke="#111" stroke-width="0.75"/>
<line x1="227.83" y1="302.47" x2="227.83" y2="310.54" stroke="#111" stroke-width="0.6"/>
<line x1="226.68" y1="302.47" x2="228.98" y2="302.47" stroke="#111" stroke-width="0.75"/>
<line x1="226.68" y1="310.54" x2="228.98" y2="310.54" stroke="#111" stroke-width="0.75"/>
<line x1="248.37" y1="324.13" x2="248.37" y2="329.89" stroke="#111" stroke-width="0.6"/>
<line x1="247.22" y1="324.13" x2="249.52" y2="324.13" stroke="#111" stroke-width="0.75"/>
<line x1="247.22" y1="329.89" x2="249.52" y2="329.89" stroke="#111" stroke-width="0.75"/>
<line x1="268.90" y1="341.41" x2="268.90" y2="349.48" stroke="#111" stroke-width="0.6"/>
<line x1="267.75" y1="341.41" x2="270.05" y2="341.41" stroke="#111" stroke-width="0.75"/>
<line x1="267.75" y1="349.48" x2="270.05" y2="349.48" stroke="#111" stroke-width="0.75"/>
<line x1="289.43" y1="358.63" x2="289.43" y2="373.03" stroke="#111" stroke-width="0.6"/>
<line x1="288.28" y1="358.63" x2="290.58" y2="358.63" stroke="#111" stroke-width="0.75"/>
<line x1="288.28" y1="373.03" x2="290.58" y2="373.03" stroke="#111" stroke-width="0.75"/>
<line x1="309.97" y1="372.17" x2="309.97" y2="384.84" stroke="#111" stroke-width="0.6"/>
<line x1="308.82" y1="372.17" x2="311.12" y2="372.17" stroke="#111" stroke-width="0.75"/>
<line x1="308.82" y1="384.84" x2="311.12" y2="384.84" stroke="#111" stroke-width="0.75"/>
<circle cx="213.00" cy="324.30" r="2.50" fill="#fbd0e4"/>
<text x="217.30" y="326.80" font-size="7.1" text-anchor="start" fill="#111" stroke="#111" stroke-width="0.18">0</text>
<circle cx="213.00" cy="334.30" r="2.50" fill="#f8b6d6"/>
<text x="217.30" y="336.80" font-size="7.1" text-anchor="start" fill="#111" stroke="#111" stroke-width="0.18">10</text>
<circle cx="213.00" cy="344.30" r="2.50" fill="#f49ccb"/>
<text x="217.30" y="346.80" font-size="7.1" text-anchor="start" fill="#111" stroke="#111" stroke-width="0.18">20</text>
<circle cx="213.00" cy="354.30" r="2.50" fill="#f07fbe"/>
<text x="217.30" y="356.80" font-size="7.1" text-anchor="start" fill="#111" stroke="#111" stroke-width="0.18">50</text>
<circle cx="213.00" cy="364.30" r="2.50" fill="#ec5fb0"/>
<text x="217.30" y="366.80" font-size="7.1" text-anchor="start" fill="#111" stroke="#111" stroke-width="0.18">100</text>
<circle cx="213.00" cy="374.30" r="2.50" fill="#e8429f"/>
<text x="217.30" y="376.80" font-size="7.1" text-anchor="start" fill="#111" stroke="#111" stroke-width="0.18">200 ATC (ng mL<tspan font-size="5" dy="-3">−1</tspan><tspan dy="3">)</tspan></text>
<text x="521.40" y="278.30" font-size="14.2" text-anchor="start" font-weight="bold" fill="#000" stroke="#000" stroke-width="0.12">j</text>
<rect x="557.10" y="276.40" width="127.30" height="106.60" fill="none" stroke="#7a7a7a" stroke-width="0.9"/>
<line x1="554.30" y1="377.50" x2="557.10" y2="377.50" stroke="#555" stroke-width="0.8"/>
<text x="550.90" y="380.40" font-size="8.5" text-anchor="end" fill="#111" stroke="#111" stroke-width="0.18">0</text>
<line x1="554.30" y1="348.50" x2="557.10" y2="348.50" stroke="#555" stroke-width="0.8"/>
<text x="550.90" y="351.40" font-size="8.5" text-anchor="end" fill="#111" stroke="#111" stroke-width="0.18">500</text>
<line x1="554.30" y1="319.50" x2="557.10" y2="319.50" stroke="#555" stroke-width="0.8"/>
<text x="550.90" y="322.40" font-size="8.5" text-anchor="end" fill="#111" stroke="#111" stroke-width="0.18">1000</text>
<line x1="554.30" y1="290.50" x2="557.10" y2="290.50" stroke="#555" stroke-width="0.8"/>
<text x="550.90" y="293.40" font-size="8.5" text-anchor="end" fill="#111" stroke="#111" stroke-width="0.18">1500</text>
<line x1="555.50" y1="363.00" x2="557.10" y2="363.00" stroke="#555" stroke-width="0.7"/>
<line x1="555.50" y1="334.00" x2="557.10" y2="334.00" stroke="#555" stroke-width="0.7"/>
<line x1="555.50" y1="305.00" x2="557.10" y2="305.00" stroke="#555" stroke-width="0.7"/>
<line x1="559.40" y1="383.00" x2="559.40" y2="385.80" stroke="#555" stroke-width="0.8"/>
<text x="559.40" y="395.50" font-size="8.5" text-anchor="middle" fill="#111" stroke="#111" stroke-width="0.18">0</text>
<line x1="583.90" y1="383.00" x2="583.90" y2="385.80" stroke="#555" stroke-width="0.8"/>
<text x="583.90" y="395.50" font-size="8.5" text-anchor="middle" fill="#111" stroke="#111" stroke-width="0.18">1</text>
<line x1="608.40" y1="383.00" x2="608.40" y2="385.80" stroke="#555" stroke-width="0.8"/>
<text x="608.40" y="395.50" font-size="8.5" text-anchor="middle" fill="#111" stroke="#111" stroke-width="0.18">2</text>
<line x1="632.90" y1="383.00" x2="632.90" y2="385.80" stroke="#555" stroke-width="0.8"/>
<text x="632.90" y="395.50" font-size="8.5" text-anchor="middle" fill="#111" stroke="#111" stroke-width="0.18">3</text>
<line x1="657.40" y1="383.00" x2="657.40" y2="385.80" stroke="#555" stroke-width="0.8"/>
<text x="657.40" y="395.50" font-size="8.5" text-anchor="middle" fill="#111" stroke="#111" stroke-width="0.18">4</text>
<line x1="681.90" y1="383.00" x2="681.90" y2="385.80" stroke="#555" stroke-width="0.8"/>
<text x="681.90" y="395.50" font-size="8.5" text-anchor="middle" fill="#111" stroke="#111" stroke-width="0.18">5</text>
<line x1="571.65" y1="383.00" x2="571.65" y2="384.60" stroke="#555" stroke-width="0.7"/>
<line x1="596.15" y1="383.00" x2="596.15" y2="384.60" stroke="#555" stroke-width="0.7"/>
<line x1="620.65" y1="383.00" x2="620.65" y2="384.60" stroke="#555" stroke-width="0.7"/>
<line x1="645.15" y1="383.00" x2="645.15" y2="384.60" stroke="#555" stroke-width="0.7"/>
<line x1="669.65" y1="383.00" x2="669.65" y2="384.60" stroke="#555" stroke-width="0.7"/>
<text x="620.75" y="409.00" font-size="8.3" text-anchor="middle" fill="#111" stroke="#111" stroke-width="0.18">Time (h)</text>
<text x="524.40" y="329.70" font-size="8.3" text-anchor="middle" fill="#111" stroke="#111" stroke-width="0.18" transform="rotate(-90 524.40 329.70)">Flu./OD</text>
<line x1="559.40" y1="375.76" x2="681.90" y2="371.99" stroke="#858585" stroke-width="0.95"/>
<line x1="559.40" y1="375.47" x2="681.90" y2="368.80" stroke="#858585" stroke-width="0.95"/>
<line x1="559.40" y1="375.18" x2="681.90" y2="360.10" stroke="#858585" stroke-width="0.95"/>
<line x1="559.40" y1="374.89" x2="681.90" y2="343.92" stroke="#858585" stroke-width="0.95"/>
<line x1="559.40" y1="374.60" x2="681.90" y2="325.42" stroke="#858585" stroke-width="0.95"/>
<line x1="559.40" y1="374.60" x2="681.90" y2="310.28" stroke="#858585" stroke-width="0.95"/>
<circle cx="559.40" cy="375.18" r="2.75" fill="#e3f3d3"/>
<circle cx="583.90" cy="374.02" r="2.75" fill="#e3f3d3"/>
<circle cx="608.40" cy="374.02" r="2.75" fill="#e3f3d3"/>
<circle cx="632.90" cy="374.02" r="2.75" fill="#e3f3d3"/>
<circle cx="657.40" cy="372.86" r="2.75" fill="#e3f3d3"/>
<circle cx="681.90" cy="372.86" r="2.75" fill="#e3f3d3"/>
<circle cx="559.40" cy="374.89" r="2.75" fill="#cdebb3"/>
<circle cx="583.90" cy="372.86" r="2.75" fill="#cdebb3"/>
<circle cx="608.40" cy="369.96" r="2.75" fill="#cdebb3"/>
<circle cx="632.90" cy="369.96" r="2.75" fill="#cdebb3"/>
<circle cx="657.40" cy="367.64" r="2.75" fill="#cdebb3"/>
<circle cx="681.90" cy="367.64" r="2.75" fill="#cdebb3"/>
<circle cx="559.40" cy="374.60" r="2.75" fill="#bce59b"/>
<circle cx="583.90" cy="371.12" r="2.75" fill="#bce59b"/>
<circle cx="608.40" cy="367.64" r="2.75" fill="#bce59b"/>
<circle cx="632.90" cy="367.06" r="2.75" fill="#bce59b"/>
<circle cx="657.40" cy="364.74" r="2.75" fill="#bce59b"/>
<circle cx="681.90" cy="357.78" r="2.75" fill="#bce59b"/>
<circle cx="559.40" cy="374.31" r="2.75" fill="#aade82"/>
<circle cx="583.90" cy="368.80" r="2.75" fill="#aade82"/>
<circle cx="608.40" cy="368.80" r="2.75" fill="#aade82"/>
<circle cx="632.90" cy="357.20" r="2.75" fill="#aade82"/>
<circle cx="657.40" cy="351.98" r="2.75" fill="#aade82"/>
<circle cx="681.90" cy="344.44" r="2.75" fill="#aade82"/>
<circle cx="559.40" cy="374.02" r="2.75" fill="#97d766"/>
<circle cx="583.90" cy="365.90" r="2.75" fill="#97d766"/>
<circle cx="608.40" cy="356.04" r="2.75" fill="#97d766"/>
<circle cx="632.90" cy="342.70" r="2.75" fill="#97d766"/>
<circle cx="657.40" cy="333.42" r="2.75" fill="#97d766"/>
<circle cx="681.90" cy="321.82" r="2.75" fill="#97d766"/>
<circle cx="559.40" cy="373.73" r="2.75" fill="#84cf48"/>
<circle cx="583.90" cy="363.00" r="2.75" fill="#84cf48"/>
<circle cx="608.40" cy="347.92" r="2.75" fill="#84cf48"/>
<circle cx="632.90" cy="335.74" r="2.75" fill="#84cf48"/>
<circle cx="657.40" cy="318.92" r="2.75" fill="#84cf48"/>
<circle cx="681.90" cy="296.88" r="2.75" fill="#84cf48"/>
<line x1="559.40" y1="373.44" x2="559.40" y2="376.92" stroke="#111" stroke-width="0.6"/>
<line x1="558.25" y1="373.44" x2="560.55" y2="373.44" stroke="#111" stroke-width="0.75"/>
<line x1="558.25" y1="376.92" x2="560.55" y2="376.92" stroke="#111" stroke-width="0.75"/>
<line x1="583.90" y1="372.57" x2="583.90" y2="375.47" stroke="#111" stroke-width="0.6"/>
<line x1="582.75" y1="372.57" x2="585.05" y2="372.57" stroke="#111" stroke-width="0.75"/>
<line x1="582.75" y1="375.47" x2="585.05" y2="375.47" stroke="#111" stroke-width="0.75"/>
<line x1="608.40" y1="372.57" x2="608.40" y2="375.47" stroke="#111" stroke-width="0.6"/>
<line x1="607.25" y1="372.57" x2="609.55" y2="372.57" stroke="#111" stroke-width="0.75"/>
<line x1="607.25" y1="375.47" x2="609.55" y2="375.47" stroke="#111" stroke-width="0.75"/>
<line x1="632.90" y1="371.12" x2="632.90" y2="376.92" stroke="#111" stroke-width="0.6"/>
<line x1="631.75" y1="371.12" x2="634.05" y2="371.12" stroke="#111" stroke-width="0.75"/>
<line x1="631.75" y1="376.92" x2="634.05" y2="376.92" stroke="#111" stroke-width="0.75"/>
<line x1="657.40" y1="370.54" x2="657.40" y2="375.18" stroke="#111" stroke-width="0.6"/>
<line x1="656.25" y1="370.54" x2="658.55" y2="370.54" stroke="#111" stroke-width="0.75"/>
<line x1="656.25" y1="375.18" x2="658.55" y2="375.18" stroke="#111" stroke-width="0.75"/>
<line x1="681.90" y1="371.12" x2="681.90" y2="374.60" stroke="#111" stroke-width="0.6"/>
<line x1="680.75" y1="371.12" x2="683.05" y2="371.12" stroke="#111" stroke-width="0.75"/>
<line x1="680.75" y1="374.60" x2="683.05" y2="374.60" stroke="#111" stroke-width="0.75"/>
<line x1="559.40" y1="373.15" x2="559.40" y2="376.63" stroke="#111" stroke-width="0.6"/>
<line x1="558.25" y1="373.15" x2="560.55" y2="373.15" stroke="#111" stroke-width="0.75"/>
<line x1="558.25" y1="376.63" x2="560.55" y2="376.63" stroke="#111" stroke-width="0.75"/>
<line x1="583.90" y1="371.41" x2="583.90" y2="374.31" stroke="#111" stroke-width="0.6"/>
<line x1="582.75" y1="371.41" x2="585.05" y2="371.41" stroke="#111" stroke-width="0.75"/>
<line x1="582.75" y1="374.31" x2="585.05" y2="374.31" stroke="#111" stroke-width="0.75"/>
<line x1="608.40" y1="368.22" x2="608.40" y2="371.70" stroke="#111" stroke-width="0.6"/>
<line x1="607.25" y1="368.22" x2="609.55" y2="368.22" stroke="#111" stroke-width="0.75"/>
<line x1="607.25" y1="371.70" x2="609.55" y2="371.70" stroke="#111" stroke-width="0.75"/>
<line x1="632.90" y1="367.64" x2="632.90" y2="372.28" stroke="#111" stroke-width="0.6"/>
<line x1="631.75" y1="367.64" x2="634.05" y2="367.64" stroke="#111" stroke-width="0.75"/>
<line x1="631.75" y1="372.28" x2="634.05" y2="372.28" stroke="#111" stroke-width="0.75"/>
<line x1="657.40" y1="364.74" x2="657.40" y2="370.54" stroke="#111" stroke-width="0.6"/>
<line x1="656.25" y1="364.74" x2="658.55" y2="364.74" stroke="#111" stroke-width="0.75"/>
<line x1="656.25" y1="370.54" x2="658.55" y2="370.54" stroke="#111" stroke-width="0.75"/>
<line x1="681.90" y1="365.32" x2="681.90" y2="369.96" stroke="#111" stroke-width="0.6"/>
<line x1="680.75" y1="365.32" x2="683.05" y2="365.32" stroke="#111" stroke-width="0.75"/>
<line x1="680.75" y1="369.96" x2="683.05" y2="369.96" stroke="#111" stroke-width="0.75"/>
<line x1="559.40" y1="372.86" x2="559.40" y2="376.34" stroke="#111" stroke-width="0.6"/>
<line x1="558.25" y1="372.86" x2="560.55" y2="372.86" stroke="#111" stroke-width="0.75"/>
<line x1="558.25" y1="376.34" x2="560.55" y2="376.34" stroke="#111" stroke-width="0.75"/>
<line x1="583.90" y1="369.38" x2="583.90" y2="372.86" stroke="#111" stroke-width="0.6"/>
<line x1="582.75" y1="369.38" x2="585.05" y2="369.38" stroke="#111" stroke-width="0.75"/>
<line x1="582.75" y1="372.86" x2="585.05" y2="372.86" stroke="#111" stroke-width="0.75"/>
<line x1="608.40" y1="365.90" x2="608.40" y2="369.38" stroke="#111" stroke-width="0.6"/>
<line x1="607.25" y1="365.90" x2="609.55" y2="365.90" stroke="#111" stroke-width="0.75"/>
<line x1="607.25" y1="369.38" x2="609.55" y2="369.38" stroke="#111" stroke-width="0.75"/>
<line x1="632.90" y1="363.58" x2="632.90" y2="370.54" stroke="#111" stroke-width="0.6"/>
<line x1="631.75" y1="363.58" x2="634.05" y2="363.58" stroke="#111" stroke-width="0.75"/>
<line x1="631.75" y1="370.54" x2="634.05" y2="370.54" stroke="#111" stroke-width="0.75"/>
<line x1="657.40" y1="361.26" x2="657.40" y2="368.22" stroke="#111" stroke-width="0.6"/>
<line x1="656.25" y1="361.26" x2="658.55" y2="361.26" stroke="#111" stroke-width="0.75"/>
<line x1="656.25" y1="368.22" x2="658.55" y2="368.22" stroke="#111" stroke-width="0.75"/>
<line x1="681.90" y1="354.30" x2="681.90" y2="361.26" stroke="#111" stroke-width="0.6"/>
<line x1="680.75" y1="354.30" x2="683.05" y2="354.30" stroke="#111" stroke-width="0.75"/>
<line x1="680.75" y1="361.26" x2="683.05" y2="361.26" stroke="#111" stroke-width="0.75"/>
<line x1="559.40" y1="372.57" x2="559.40" y2="376.05" stroke="#111" stroke-width="0.6"/>
<line x1="558.25" y1="372.57" x2="560.55" y2="372.57" stroke="#111" stroke-width="0.75"/>
<line x1="558.25" y1="376.05" x2="560.55" y2="376.05" stroke="#111" stroke-width="0.75"/>
<line x1="583.90" y1="367.06" x2="583.90" y2="370.54" stroke="#111" stroke-width="0.6"/>
<line x1="582.75" y1="367.06" x2="585.05" y2="367.06" stroke="#111" stroke-width="0.75"/>
<line x1="582.75" y1="370.54" x2="585.05" y2="370.54" stroke="#111" stroke-width="0.75"/>
<line x1="608.40" y1="366.48" x2="608.40" y2="371.12" stroke="#111" stroke-width="0.6"/>
<line x1="607.25" y1="366.48" x2="609.55" y2="366.48" stroke="#111" stroke-width="0.75"/>
<line x1="607.25" y1="371.12" x2="609.55" y2="371.12" stroke="#111" stroke-width="0.75"/>
<line x1="632.90" y1="354.88" x2="632.90" y2="359.52" stroke="#111" stroke-width="0.6"/>
<line x1="631.75" y1="354.88" x2="634.05" y2="354.88" stroke="#111" stroke-width="0.75"/>
<line x1="631.75" y1="359.52" x2="634.05" y2="359.52" stroke="#111" stroke-width="0.75"/>
<line x1="657.40" y1="349.08" x2="657.40" y2="354.88" stroke="#111" stroke-width="0.6"/>
<line x1="656.25" y1="349.08" x2="658.55" y2="349.08" stroke="#111" stroke-width="0.75"/>
<line x1="656.25" y1="354.88" x2="658.55" y2="354.88" stroke="#111" stroke-width="0.75"/>
<line x1="681.90" y1="340.96" x2="681.90" y2="347.92" stroke="#111" stroke-width="0.6"/>
<line x1="680.75" y1="340.96" x2="683.05" y2="340.96" stroke="#111" stroke-width="0.75"/>
<line x1="680.75" y1="347.92" x2="683.05" y2="347.92" stroke="#111" stroke-width="0.75"/>
<line x1="559.40" y1="372.28" x2="559.40" y2="375.76" stroke="#111" stroke-width="0.6"/>
<line x1="558.25" y1="372.28" x2="560.55" y2="372.28" stroke="#111" stroke-width="0.75"/>
<line x1="558.25" y1="375.76" x2="560.55" y2="375.76" stroke="#111" stroke-width="0.75"/>
<line x1="583.90" y1="364.16" x2="583.90" y2="367.64" stroke="#111" stroke-width="0.6"/>
<line x1="582.75" y1="364.16" x2="585.05" y2="364.16" stroke="#111" stroke-width="0.75"/>
<line x1="582.75" y1="367.64" x2="585.05" y2="367.64" stroke="#111" stroke-width="0.75"/>
<line x1="608.40" y1="352.56" x2="608.40" y2="359.52" stroke="#111" stroke-width="0.6"/>
<line x1="607.25" y1="352.56" x2="609.55" y2="352.56" stroke="#111" stroke-width="0.75"/>
<line x1="607.25" y1="359.52" x2="609.55" y2="359.52" stroke="#111" stroke-width="0.75"/>
<line x1="632.90" y1="339.22" x2="632.90" y2="346.18" stroke="#111" stroke-width="0.6"/>
<line x1="631.75" y1="339.22" x2="634.05" y2="339.22" stroke="#111" stroke-width="0.75"/>
<line x1="631.75" y1="346.18" x2="634.05" y2="346.18" stroke="#111" stroke-width="0.75"/>
<line x1="657.40" y1="329.36" x2="657.40" y2="337.48" stroke="#111" stroke-width="0.6"/>
<line x1="656.25" y1="329.36" x2="658.55" y2="329.36" stroke="#111" stroke-width="0.75"/>
<line x1="656.25" y1="337.48" x2="658.55" y2="337.48" stroke="#111" stroke-width="0.75"/>
<line x1="681.90" y1="317.18" x2="681.90" y2="326.46" stroke="#111" stroke-width="0.6"/>
<line x1="680.75" y1="317.18" x2="683.05" y2="317.18" stroke="#111" stroke-width="0.75"/>
<line x1="680.75" y1="326.46" x2="683.05" y2="326.46" stroke="#111" stroke-width="0.75"/>
<line x1="559.40" y1="371.99" x2="559.40" y2="375.47" stroke="#111" stroke-width="0.6"/>
<line x1="558.25" y1="371.99" x2="560.55" y2="371.99" stroke="#111" stroke-width="0.75"/>
<line x1="558.25" y1="375.47" x2="560.55" y2="375.47" stroke="#111" stroke-width="0.75"/>
<line x1="583.90" y1="360.68" x2="583.90" y2="365.32" stroke="#111" stroke-width="0.6"/>
<line x1="582.75" y1="360.68" x2="585.05" y2="360.68" stroke="#111" stroke-width="0.75"/>
<line x1="582.75" y1="365.32" x2="585.05" y2="365.32" stroke="#111" stroke-width="0.75"/>
<line x1="608.40" y1="346.18" x2="608.40" y2="349.66" stroke="#111" stroke-width="0.6"/>
<line x1="607.25" y1="346.18" x2="609.55" y2="346.18" stroke="#111" stroke-width="0.75"/>
<line x1="607.25" y1="349.66" x2="609.55" y2="349.66" stroke="#111" stroke-width="0.75"/>
<line x1="632.90" y1="331.10" x2="632.90" y2="340.38" stroke="#111" stroke-width="0.6"/>
<line x1="631.75" y1="331.10" x2="634.05" y2="331.10" stroke="#111" stroke-width="0.75"/>
<line x1="631.75" y1="340.38" x2="634.05" y2="340.38" stroke="#111" stroke-width="0.75"/>
<line x1="657.40" y1="312.54" x2="657.40" y2="325.30" stroke="#111" stroke-width="0.6"/>
<line x1="656.25" y1="312.54" x2="658.55" y2="312.54" stroke="#111" stroke-width="0.75"/>
<line x1="656.25" y1="325.30" x2="658.55" y2="325.30" stroke="#111" stroke-width="0.75"/>
<line x1="681.90" y1="287.60" x2="681.90" y2="306.16" stroke="#111" stroke-width="0.6"/>
<line x1="680.75" y1="287.60" x2="683.05" y2="287.60" stroke="#111" stroke-width="0.75"/>
<line x1="680.75" y1="306.16" x2="683.05" y2="306.16" stroke="#111" stroke-width="0.75"/>
<circle cx="564.50" cy="282.60" r="2.50" fill="#e3f3d3"/>
<text x="570.50" y="285.10" font-size="7.1" text-anchor="start" fill="#111" stroke="#111" stroke-width="0.18">0</text>
<circle cx="564.50" cy="292.65" r="2.50" fill="#cdebb3"/>
<text x="570.50" y="295.15" font-size="7.1" text-anchor="start" fill="#111" stroke="#111" stroke-width="0.18">10</text>
<circle cx="564.50" cy="302.70" r="2.50" fill="#bce59b"/>
<text x="570.50" y="305.20" font-size="7.1" text-anchor="start" fill="#111" stroke="#111" stroke-width="0.18">20</text>
<circle cx="564.50" cy="312.75" r="2.50" fill="#aade82"/>
<text x="570.50" y="315.25" font-size="7.1" text-anchor="start" fill="#111" stroke="#111" stroke-width="0.18">50</text>
<circle cx="564.50" cy="322.80" r="2.50" fill="#97d766"/>
<text x="570.50" y="325.30" font-size="7.1" text-anchor="start" fill="#111" stroke="#111" stroke-width="0.18">100</text>
<circle cx="564.50" cy="332.85" r="2.50" fill="#84cf48"/>
<text x="570.50" y="335.35" font-size="7.1" text-anchor="start" fill="#111" stroke="#111" stroke-width="0.18">200 ATC (ng mL<tspan font-size="5" dy="-3">−1</tspan><tspan dy="3">)</tspan></text>
</svg>
</body></html>
